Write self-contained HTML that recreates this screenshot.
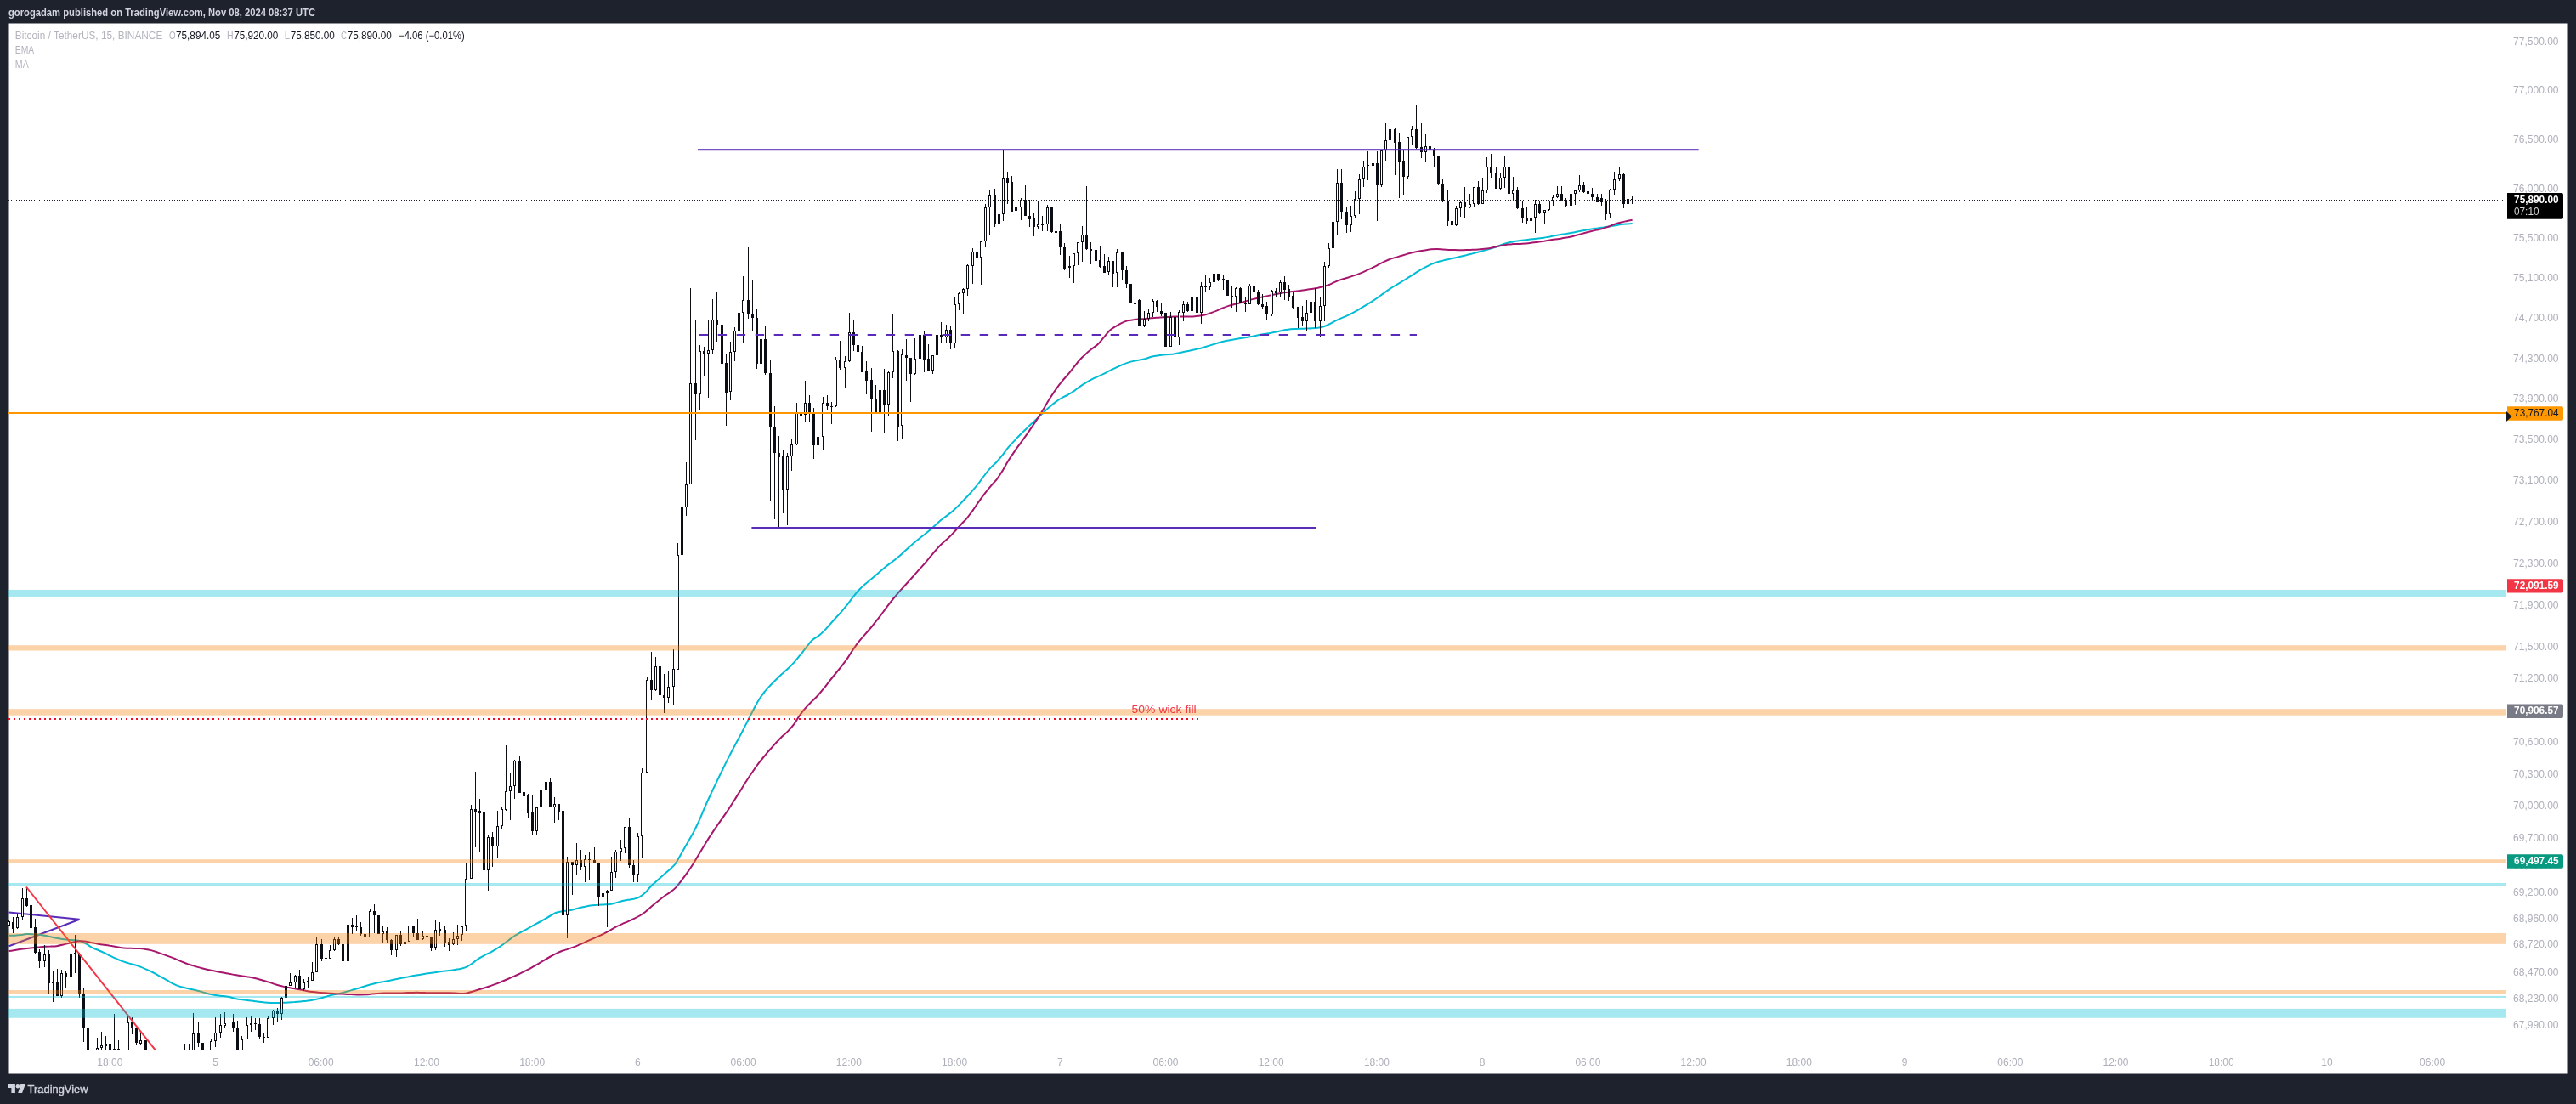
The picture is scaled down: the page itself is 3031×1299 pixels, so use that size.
<!DOCTYPE html>
<html><head><meta charset="utf-8"><title>BTCUSDT</title>
<style>
html,body{margin:0;padding:0;background:#1e222d;}
body{width:3031px;height:1299px;overflow:hidden;position:relative;font-family:"Liberation Sans",sans-serif;}
svg{position:absolute;left:0;top:0;will-change:transform;}
text{font-family:"Liberation Sans",sans-serif;}
</style></head><body>
<svg width="3031" height="1299" viewBox="0 0 3031 1299">
<defs><clipPath id="pane"><rect x="10" y="27" width="2939" height="1209"/></clipPath></defs>
<rect x="0" y="0" width="3031" height="1299" fill="#1e222d"/>
<rect x="10.5" y="27.5" width="3010" height="1236" fill="#ffffff"/>
<text x="10" y="19" font-size="13.5" font-weight="bold" fill="#d1d4dc" textLength="361" lengthAdjust="spacingAndGlyphs">gorogadam published on TradingView.com, Nov 08, 2024 08:37 UTC</text>
<g clip-path="url(#pane)">
<!-- triangle -->
<path d="M10.5 1073.4L93.6 1081.8L10.5 1113.2" fill="none" stroke="#5a2bb8" stroke-width="2"/>
<path d="M10.6 1100.7C11.7 1100.7 15.2 1100.8 17.6 1100.7C19.9 1100.6 22.2 1100.2 24.6 1100.0C26.9 1099.7 29.2 1099.2 31.6 1099.1C33.9 1099.0 36.2 1099.1 38.6 1099.3C40.9 1099.4 43.2 1099.5 45.6 1099.8C47.9 1100.0 50.2 1100.4 52.6 1100.8C54.9 1101.2 57.2 1101.8 59.6 1102.3C61.9 1102.8 64.2 1103.4 66.6 1103.8C68.9 1104.2 71.2 1104.6 73.6 1104.9C75.9 1105.2 78.2 1105.5 80.6 1105.8C82.9 1106.0 85.2 1106.0 87.6 1106.2C89.9 1106.5 92.2 1106.7 94.6 1107.4C96.9 1108.2 99.2 1109.5 101.6 1110.7C103.9 1112.0 106.2 1113.9 108.6 1115.1C110.9 1116.3 113.2 1117.0 115.6 1118.0C117.9 1119.0 120.2 1120.0 122.6 1121.1C124.9 1122.2 127.2 1123.5 129.6 1124.7C131.9 1125.8 134.2 1126.9 136.6 1127.9C138.9 1129.0 141.2 1130.0 143.6 1130.9C145.9 1131.8 148.2 1132.4 150.6 1133.1C152.9 1133.8 155.2 1134.3 157.6 1135.0C159.9 1135.7 162.2 1136.5 164.6 1137.4C166.9 1138.3 169.2 1139.2 171.6 1140.3C173.9 1141.3 176.2 1142.3 178.6 1143.5C180.9 1144.7 183.2 1146.0 185.6 1147.3C187.9 1148.6 190.2 1149.9 192.6 1151.2C194.9 1152.5 197.2 1154.0 199.6 1155.3C201.9 1156.6 204.2 1157.8 206.6 1158.8C208.9 1159.8 211.2 1160.5 213.6 1161.2C215.9 1161.8 218.2 1162.4 220.6 1163.0C222.9 1163.6 225.2 1164.1 227.6 1164.6C229.9 1165.1 232.2 1165.6 234.6 1166.2C236.9 1166.8 239.2 1167.6 241.6 1168.2C243.9 1168.9 246.2 1169.6 248.6 1170.1C250.9 1170.6 253.2 1171.0 255.6 1171.3C257.9 1171.6 260.2 1171.8 262.6 1172.1C264.9 1172.4 267.2 1172.7 269.6 1173.1C271.9 1173.6 274.2 1174.4 276.6 1174.9C278.9 1175.4 281.2 1175.8 283.6 1176.1C285.9 1176.4 288.2 1176.6 290.6 1176.9C292.9 1177.2 295.2 1177.5 297.6 1177.8C299.9 1178.1 302.2 1178.5 304.6 1178.8C306.9 1179.1 309.2 1179.3 311.6 1179.5C313.9 1179.7 316.2 1179.8 318.6 1179.9C320.9 1180.0 323.2 1180.0 325.6 1180.0C327.9 1180.0 330.2 1179.9 332.6 1179.8C334.9 1179.7 337.2 1179.6 339.6 1179.4C341.9 1179.3 344.2 1179.1 346.6 1179.0C348.9 1178.8 351.2 1178.6 353.6 1178.4C355.9 1178.2 358.2 1177.9 360.6 1177.7C362.9 1177.4 365.2 1177.1 367.6 1176.7C369.9 1176.3 372.2 1175.8 374.6 1175.2C376.9 1174.6 379.2 1173.9 381.6 1173.2C383.9 1172.6 386.2 1171.9 388.6 1171.3C390.9 1170.7 393.2 1170.2 395.6 1169.7C397.9 1169.2 400.2 1168.7 402.6 1168.1C404.9 1167.5 407.2 1166.9 409.6 1166.3C411.9 1165.6 414.2 1165.0 416.6 1164.3C418.9 1163.6 421.2 1163.0 423.6 1162.2C425.9 1161.5 428.2 1160.7 430.6 1160.0C432.9 1159.3 435.2 1158.6 437.6 1158.0C439.9 1157.3 442.2 1156.8 444.6 1156.3C446.9 1155.9 449.2 1155.4 451.6 1155.0C453.9 1154.5 456.2 1154.1 458.6 1153.7C460.9 1153.2 463.2 1152.7 465.6 1152.2C467.9 1151.8 470.2 1151.3 472.6 1150.8C474.9 1150.4 477.2 1149.9 479.6 1149.5C481.9 1149.0 484.2 1148.6 486.6 1148.1C488.9 1147.7 491.2 1147.3 493.6 1146.9C495.9 1146.5 498.2 1146.1 500.6 1145.7C502.9 1145.4 505.2 1145.0 507.6 1144.7C509.9 1144.4 512.2 1144.1 514.6 1143.8C516.9 1143.4 519.2 1143.1 521.6 1142.8C523.9 1142.5 526.2 1142.2 528.6 1141.9C530.9 1141.6 533.2 1141.3 535.6 1140.9C537.9 1140.5 540.2 1140.3 542.6 1139.7C544.9 1139.1 547.2 1138.5 549.6 1137.3C551.9 1136.2 554.2 1134.5 556.6 1132.9C558.9 1131.3 561.2 1129.1 563.6 1127.6C565.9 1126.0 568.2 1124.9 570.6 1123.7C572.9 1122.5 575.2 1121.6 577.6 1120.4C579.9 1119.1 582.2 1117.7 584.6 1116.2C586.9 1114.7 589.2 1113.2 591.6 1111.5C593.9 1109.8 596.2 1107.9 598.6 1106.2C600.9 1104.5 603.2 1102.6 605.6 1101.0C607.9 1099.5 610.2 1098.3 612.6 1097.0C614.9 1095.7 617.2 1094.6 619.6 1093.3C621.9 1092.0 624.2 1090.7 626.6 1089.4C628.9 1088.1 631.2 1086.8 633.6 1085.5C635.9 1084.3 638.2 1083.1 640.6 1081.7C642.9 1080.4 645.2 1078.8 647.6 1077.5C649.9 1076.2 652.2 1074.7 654.6 1073.8C656.9 1073.0 659.2 1072.6 661.6 1072.2C663.9 1071.8 666.2 1071.8 668.6 1071.4C670.9 1071.0 673.2 1070.6 675.6 1070.0C677.9 1069.4 680.2 1068.6 682.6 1068.0C684.9 1067.4 687.2 1067.0 689.6 1066.5C691.9 1066.0 694.2 1065.6 696.6 1065.3C698.9 1065.0 701.2 1064.8 703.6 1064.7C705.9 1064.5 708.2 1064.5 710.6 1064.4C712.9 1064.3 715.2 1064.3 717.6 1063.9C719.9 1063.6 722.2 1063.0 724.6 1062.4C726.9 1061.8 729.2 1060.9 731.6 1060.3C733.9 1059.7 736.2 1059.3 738.6 1058.8C740.9 1058.4 743.2 1058.3 745.6 1057.8C747.9 1057.2 750.2 1056.7 752.6 1055.4C754.9 1054.1 757.2 1052.3 759.6 1050.1C761.9 1047.9 764.2 1044.4 766.6 1042.0C768.9 1039.6 771.2 1037.9 773.6 1035.8C775.9 1033.7 778.2 1031.6 780.6 1029.5C782.9 1027.4 785.2 1025.6 787.6 1023.4C789.9 1021.2 792.2 1019.6 794.6 1016.5C796.9 1013.3 799.2 1008.6 801.6 1004.5C803.9 1000.5 806.2 996.3 808.6 992.3C810.9 988.2 813.2 984.4 815.6 980.0C817.9 975.6 820.2 970.9 822.6 965.8C824.9 960.6 827.2 954.5 829.6 949.2C831.9 943.9 834.2 938.9 836.6 933.8C838.9 928.8 841.2 924.0 843.6 919.1C845.9 914.3 848.2 909.5 850.6 904.7C852.9 900.0 855.2 895.2 857.6 890.6C859.9 886.0 862.2 881.5 864.6 877.2C866.9 872.8 869.2 868.7 871.6 864.3C873.9 859.9 876.2 855.2 878.6 850.6C880.9 846.1 883.2 841.4 885.6 836.9C887.9 832.5 890.2 827.8 892.6 824.0C894.9 820.1 897.2 816.9 899.6 814.0C901.9 811.0 904.2 808.7 906.6 806.2C908.9 803.7 911.2 801.5 913.6 799.2C915.9 796.9 918.2 794.7 920.6 792.6C922.9 790.4 925.2 788.4 927.6 786.2C929.9 784.0 932.2 781.7 934.6 779.1C936.9 776.5 939.2 773.6 941.6 770.7C943.9 767.8 946.2 764.8 948.6 761.9C950.9 759.0 953.2 755.5 955.6 753.3C957.9 751.1 960.2 750.4 962.6 748.6C964.9 746.8 967.2 744.8 969.6 742.4C971.9 740.1 974.2 737.2 976.6 734.6C978.9 732.0 981.2 729.4 983.6 726.8C985.9 724.3 988.2 721.8 990.6 719.1C992.9 716.3 995.2 713.5 997.6 710.6C999.9 707.6 1002.2 704.2 1004.6 701.4C1006.9 698.5 1009.2 695.8 1011.6 693.3C1013.9 690.9 1016.2 688.8 1018.6 686.7C1020.9 684.7 1023.2 683.0 1025.6 681.0C1027.9 679.1 1030.2 676.9 1032.6 674.9C1034.9 672.9 1037.2 670.9 1039.6 668.9C1041.9 667.0 1044.2 665.2 1046.6 663.4C1048.9 661.6 1051.2 659.9 1053.6 658.1C1055.9 656.2 1058.2 654.3 1060.6 652.2C1062.9 650.2 1065.2 647.9 1067.6 645.7C1069.9 643.6 1072.2 641.4 1074.6 639.4C1076.9 637.4 1079.2 635.5 1081.6 633.7C1083.9 631.8 1086.2 630.1 1088.6 628.2C1090.9 626.4 1093.2 624.6 1095.6 622.5C1097.9 620.5 1100.2 617.9 1102.6 615.9C1104.9 613.8 1107.2 611.8 1109.6 610.0C1111.9 608.2 1114.2 606.8 1116.6 604.9C1118.9 603.1 1121.2 601.1 1123.6 598.9C1125.9 596.8 1128.2 594.4 1130.6 592.1C1132.9 589.7 1135.2 587.2 1137.6 584.7C1139.9 582.2 1142.2 579.6 1144.6 576.9C1146.9 574.2 1149.2 571.5 1151.6 568.5C1153.9 565.5 1156.2 562.0 1158.6 559.0C1160.9 555.9 1163.2 552.9 1165.6 550.4C1167.9 547.8 1170.2 546.2 1172.6 543.7C1174.9 541.2 1177.2 538.3 1179.6 535.4C1181.9 532.4 1184.2 529.0 1186.6 526.2C1188.9 523.4 1191.2 521.0 1193.6 518.6C1195.9 516.1 1198.2 513.7 1200.6 511.3C1202.9 508.9 1205.2 506.6 1207.6 504.4C1209.9 502.1 1212.2 500.0 1214.6 497.8C1216.9 495.7 1219.2 493.5 1221.6 491.3C1223.9 489.0 1226.2 486.7 1228.6 484.5C1230.9 482.3 1233.2 480.2 1235.6 478.2C1237.9 476.2 1240.2 474.3 1242.6 472.6C1244.9 470.9 1247.2 469.4 1249.6 468.0C1251.9 466.6 1254.2 465.8 1256.6 464.5C1258.9 463.1 1261.2 461.7 1263.6 460.1C1265.9 458.5 1268.2 456.5 1270.6 454.9C1272.9 453.2 1275.2 451.7 1277.6 450.3C1279.9 448.9 1282.2 447.6 1284.6 446.3C1286.9 445.1 1289.2 444.2 1291.6 443.1C1293.9 442.0 1296.2 440.9 1298.6 439.8C1300.9 438.7 1303.2 437.4 1305.6 436.2C1307.9 435.1 1310.2 433.9 1312.6 432.8C1314.9 431.7 1317.2 430.5 1319.6 429.5C1321.9 428.5 1324.2 427.7 1326.6 426.9C1328.9 426.2 1331.2 425.5 1333.6 424.9C1335.9 424.3 1338.2 423.8 1340.6 423.4C1342.9 422.9 1345.2 422.8 1347.6 422.2C1349.9 421.6 1352.2 420.4 1354.6 419.8C1356.9 419.2 1359.2 418.9 1361.6 418.5C1363.9 418.2 1366.2 417.9 1368.6 417.6C1370.9 417.4 1373.2 417.2 1375.6 417.0C1377.9 416.8 1380.2 416.6 1382.6 416.2C1384.9 415.9 1387.2 415.3 1389.6 414.8C1391.9 414.3 1394.2 413.7 1396.6 413.2C1398.9 412.7 1401.2 412.3 1403.6 411.8C1405.9 411.4 1408.2 410.8 1410.6 410.2C1412.9 409.6 1415.2 408.9 1417.6 408.2C1419.9 407.5 1422.2 406.8 1424.6 406.1C1426.9 405.4 1429.2 404.7 1431.6 404.0C1433.9 403.3 1436.2 402.6 1438.6 402.0C1440.9 401.5 1443.2 401.0 1445.6 400.6C1447.9 400.1 1450.2 399.7 1452.6 399.3C1454.9 398.9 1457.2 398.5 1459.6 398.1C1461.9 397.7 1464.2 397.3 1466.6 396.9C1468.9 396.5 1471.2 396.1 1473.6 395.7C1475.9 395.2 1478.2 394.8 1480.6 394.3C1482.9 393.9 1485.2 393.5 1487.6 393.1C1489.9 392.7 1492.2 392.3 1494.6 391.9C1496.9 391.5 1499.2 391.1 1501.6 390.6C1503.9 390.1 1506.2 389.4 1508.6 388.9C1510.9 388.4 1513.2 388.1 1515.6 387.8C1517.9 387.5 1520.2 387.3 1522.6 387.1C1524.9 387.0 1527.2 386.8 1529.6 386.8C1531.9 386.7 1534.2 386.7 1536.6 386.6C1538.9 386.5 1541.2 386.5 1543.6 386.3C1545.9 386.2 1548.2 386.1 1550.6 385.8C1552.9 385.4 1555.2 385.0 1557.6 384.3C1559.9 383.5 1562.2 382.4 1564.6 381.2C1566.9 380.1 1569.2 378.5 1571.6 377.3C1573.9 376.1 1576.2 375.1 1578.6 374.1C1580.9 373.1 1583.2 372.3 1585.6 371.2C1587.9 370.1 1590.2 368.9 1592.6 367.6C1594.9 366.4 1597.2 365.0 1599.6 363.6C1601.9 362.2 1604.2 360.8 1606.6 359.4C1608.9 358.0 1611.2 356.6 1613.6 355.1C1615.9 353.6 1618.2 352.1 1620.6 350.5C1622.9 348.9 1625.2 347.1 1627.6 345.4C1629.9 343.7 1632.2 342.0 1634.6 340.4C1636.9 338.9 1639.2 337.4 1641.6 336.0C1643.9 334.6 1646.2 333.3 1648.6 331.9C1650.9 330.5 1653.2 329.0 1655.6 327.5C1657.9 326.1 1660.2 324.5 1662.6 323.1C1664.9 321.6 1667.2 320.1 1669.6 318.7C1671.9 317.3 1674.2 316.0 1676.6 314.7C1678.9 313.5 1681.2 312.3 1683.6 311.2C1685.9 310.2 1688.2 309.2 1690.6 308.5C1692.9 307.7 1695.2 307.2 1697.6 306.6C1699.9 306.0 1702.2 305.5 1704.6 305.0C1706.9 304.4 1709.2 303.9 1711.6 303.4C1713.9 302.9 1716.2 302.4 1718.6 301.8C1720.9 301.3 1723.2 300.7 1725.6 300.1C1727.9 299.6 1730.2 299.0 1732.6 298.4C1734.9 297.8 1737.2 297.2 1739.6 296.5C1741.9 295.9 1744.2 295.3 1746.6 294.6C1748.9 294.0 1751.2 293.3 1753.6 292.6C1755.9 291.9 1758.2 291.3 1760.6 290.5C1762.9 289.7 1765.2 288.4 1767.6 287.6C1769.9 286.8 1772.2 286.1 1774.6 285.5C1776.9 284.9 1779.2 284.6 1781.6 284.2C1783.9 283.8 1786.2 283.5 1788.6 283.1C1790.9 282.8 1793.2 282.5 1795.6 282.2C1797.9 281.9 1800.2 281.6 1802.6 281.3C1804.9 281.0 1807.2 280.9 1809.6 280.6C1811.9 280.3 1814.2 280.1 1816.6 279.7C1818.9 279.3 1821.2 278.8 1823.6 278.4C1825.9 277.9 1828.2 277.4 1830.6 277.0C1832.9 276.6 1835.2 276.2 1837.6 275.8C1839.9 275.5 1842.2 275.1 1844.6 274.7C1846.9 274.3 1849.2 274.0 1851.6 273.5C1853.9 273.1 1856.2 272.5 1858.6 272.1C1860.9 271.6 1863.2 271.1 1865.6 270.7C1867.9 270.3 1870.2 270.0 1872.6 269.6C1874.9 269.2 1877.2 268.9 1879.6 268.6C1881.9 268.2 1884.2 267.9 1886.6 267.6C1888.9 267.2 1891.2 266.8 1893.6 266.4C1895.9 266.1 1898.2 265.7 1900.6 265.3C1902.9 264.9 1905.2 264.4 1907.6 264.1C1909.9 263.8 1912.4 263.6 1914.6 263.4C1916.7 263.2 1919.6 263.1 1920.6 263.1" fill="none" stroke="#00bcd4" stroke-width="2" stroke-linejoin="round"/>
<path d="M10.6 1119.0C11.7 1118.9 15.2 1118.4 17.6 1118.0C19.9 1117.6 22.2 1117.2 24.6 1116.8C26.9 1116.5 29.2 1116.1 31.6 1115.9C33.9 1115.6 36.2 1115.5 38.6 1115.3C40.9 1115.1 43.2 1114.9 45.6 1114.6C47.9 1114.3 50.2 1113.9 52.6 1113.7C54.9 1113.5 57.2 1113.5 59.6 1113.5C61.9 1113.4 64.2 1113.5 66.6 1113.2C68.9 1112.9 71.2 1112.3 73.6 1111.7C75.9 1111.2 78.2 1110.5 80.6 1110.0C82.9 1109.4 85.2 1108.7 87.6 1108.3C89.9 1107.8 92.2 1107.4 94.6 1107.3C96.9 1107.2 99.2 1107.3 101.6 1107.7C103.9 1108.0 106.2 1108.8 108.6 1109.3C110.9 1109.8 113.2 1110.3 115.6 1110.7C117.9 1111.1 120.2 1111.4 122.6 1111.7C124.9 1112.0 127.2 1112.3 129.6 1112.7C131.9 1113.0 134.2 1113.6 136.6 1114.0C138.9 1114.4 141.2 1115.0 143.6 1115.3C145.9 1115.6 148.2 1115.6 150.6 1115.7C152.9 1115.8 155.2 1115.8 157.6 1115.9C159.9 1115.9 162.2 1115.9 164.6 1116.1C166.9 1116.3 169.2 1116.6 171.6 1117.0C173.9 1117.3 176.2 1117.8 178.6 1118.4C180.9 1119.0 183.2 1119.8 185.6 1120.6C187.9 1121.4 190.2 1122.2 192.6 1123.1C194.9 1123.9 197.2 1124.7 199.6 1125.6C201.9 1126.5 204.2 1127.4 206.6 1128.3C208.9 1129.3 211.2 1130.3 213.6 1131.3C215.9 1132.2 218.2 1133.2 220.6 1134.1C222.9 1134.9 225.2 1135.6 227.6 1136.4C229.9 1137.1 232.2 1137.8 234.6 1138.4C236.9 1139.0 239.2 1139.7 241.6 1140.2C243.9 1140.8 246.2 1141.3 248.6 1141.8C250.9 1142.3 253.2 1142.8 255.6 1143.2C257.9 1143.6 260.2 1144.0 262.6 1144.4C264.9 1144.9 267.2 1145.3 269.6 1145.8C271.9 1146.2 274.2 1146.7 276.6 1147.1C278.9 1147.5 281.2 1147.9 283.6 1148.2C285.9 1148.6 288.2 1148.8 290.6 1149.2C292.9 1149.6 295.2 1149.9 297.6 1150.5C299.9 1151.0 302.2 1151.6 304.6 1152.2C306.9 1152.9 309.2 1153.6 311.6 1154.3C313.9 1155.0 316.2 1155.7 318.6 1156.4C320.9 1157.2 323.2 1158.1 325.6 1158.8C327.9 1159.5 330.2 1160.1 332.6 1160.6C334.9 1161.2 337.2 1161.6 339.6 1162.0C341.9 1162.5 344.2 1162.8 346.6 1163.3C348.9 1163.7 351.2 1164.1 353.6 1164.6C355.9 1165.1 358.2 1165.6 360.6 1166.0C362.9 1166.4 365.2 1166.8 367.6 1167.0C369.9 1167.3 372.2 1167.5 374.6 1167.7C376.9 1167.8 379.2 1168.0 381.6 1168.2C383.9 1168.4 386.2 1168.5 388.6 1168.7C390.9 1168.9 393.2 1169.0 395.6 1169.2C397.9 1169.3 400.2 1169.5 402.6 1169.6C404.9 1169.7 407.2 1169.9 409.6 1170.0C411.9 1170.1 414.2 1170.1 416.6 1170.2C418.9 1170.3 421.2 1170.4 423.6 1170.4C425.9 1170.4 428.2 1170.4 430.6 1170.3C432.9 1170.2 435.2 1169.8 437.6 1169.6C439.9 1169.4 442.2 1169.2 444.6 1169.0C446.9 1168.9 449.2 1168.7 451.6 1168.6C453.9 1168.6 456.2 1168.6 458.6 1168.5C460.9 1168.5 463.2 1168.5 465.6 1168.5C467.9 1168.5 470.2 1168.4 472.6 1168.4C474.9 1168.3 477.2 1168.2 479.6 1168.1C481.9 1168.0 484.2 1167.9 486.6 1167.9C488.9 1167.8 491.2 1167.8 493.6 1167.9C495.9 1167.9 498.2 1168.0 500.6 1168.1C502.9 1168.1 505.2 1168.2 507.6 1168.2C509.9 1168.3 512.2 1168.2 514.6 1168.2C516.9 1168.2 519.2 1168.2 521.6 1168.2C523.9 1168.2 526.2 1168.2 528.6 1168.2C530.9 1168.3 533.2 1168.4 535.6 1168.5C537.9 1168.6 540.2 1169.0 542.6 1169.0C544.9 1169.0 547.2 1168.8 549.6 1168.4C551.9 1168.0 554.2 1167.2 556.6 1166.5C558.9 1165.9 561.2 1165.0 563.6 1164.3C565.9 1163.6 568.2 1162.9 570.6 1162.2C572.9 1161.5 575.2 1160.7 577.6 1159.9C579.9 1159.1 582.2 1158.3 584.6 1157.4C586.9 1156.5 589.2 1155.5 591.6 1154.5C593.9 1153.5 596.2 1152.5 598.6 1151.5C600.9 1150.5 603.2 1149.5 605.6 1148.4C607.9 1147.4 610.2 1146.3 612.6 1145.2C614.9 1144.1 617.2 1143.0 619.6 1141.7C621.9 1140.5 624.2 1139.3 626.6 1137.9C628.9 1136.6 631.2 1135.2 633.6 1133.8C635.9 1132.4 638.2 1131.0 640.6 1129.6C642.9 1128.2 645.2 1126.8 647.6 1125.5C649.9 1124.2 652.2 1123.0 654.6 1121.9C656.9 1120.7 659.2 1119.7 661.6 1118.8C663.9 1118.0 666.2 1117.4 668.6 1116.6C670.9 1115.8 673.2 1115.0 675.6 1114.1C677.9 1113.2 680.2 1112.2 682.6 1111.2C684.9 1110.2 687.2 1109.1 689.6 1108.0C691.9 1107.0 694.2 1106.0 696.6 1104.9C698.9 1103.9 701.2 1102.9 703.6 1101.9C705.9 1100.8 708.2 1099.8 710.6 1098.6C712.9 1097.4 715.2 1096.2 717.6 1094.9C719.9 1093.5 722.2 1092.0 724.6 1090.7C726.9 1089.4 729.2 1088.3 731.6 1087.3C733.9 1086.2 736.2 1085.4 738.6 1084.4C740.9 1083.3 743.2 1082.3 745.6 1081.1C747.9 1080.0 750.2 1078.9 752.6 1077.5C754.9 1076.1 757.2 1074.6 759.6 1072.7C761.9 1070.9 764.2 1068.5 766.6 1066.5C768.9 1064.5 771.2 1062.6 773.6 1060.7C775.9 1058.8 778.2 1057.0 780.6 1055.2C782.9 1053.5 785.2 1052.1 787.6 1050.4C789.9 1048.7 792.2 1047.3 794.6 1044.9C796.9 1042.6 799.2 1039.3 801.6 1036.3C803.9 1033.3 806.2 1030.2 808.6 1026.9C810.9 1023.6 813.2 1020.2 815.6 1016.5C817.9 1012.8 820.2 1008.7 822.6 1004.8C824.9 1000.9 827.2 997.0 829.6 993.2C831.9 989.4 834.2 985.6 836.6 982.1C838.9 978.5 841.2 975.1 843.6 971.8C845.9 968.4 848.2 965.2 850.6 961.9C852.9 958.5 855.2 955.2 857.6 951.7C859.9 948.1 862.2 944.3 864.6 940.7C866.9 937.0 869.2 933.3 871.6 929.6C873.9 925.9 876.2 922.1 878.6 918.5C880.9 914.8 883.2 911.3 885.6 908.0C887.9 904.6 890.2 901.3 892.6 898.2C894.9 895.1 897.2 892.3 899.6 889.5C901.9 886.6 904.2 883.9 906.6 881.3C908.9 878.6 911.2 876.0 913.6 873.5C915.9 871.1 918.2 868.6 920.6 866.3C922.9 864.0 925.2 862.3 927.6 859.9C929.9 857.4 932.2 854.7 934.6 851.6C936.9 848.4 939.2 844.1 941.6 840.9C943.9 837.6 946.2 834.7 948.6 832.1C950.9 829.4 953.2 827.3 955.6 824.9C957.9 822.6 960.2 820.6 962.6 818.0C964.9 815.5 967.2 812.6 969.6 809.7C971.9 806.8 974.2 803.6 976.6 800.7C978.9 797.7 981.2 794.9 983.6 792.0C985.9 789.1 988.2 786.4 990.6 783.4C992.9 780.4 995.2 777.3 997.6 773.9C999.9 770.5 1002.2 766.4 1004.6 763.1C1006.9 759.7 1009.2 756.7 1011.6 753.7C1013.9 750.8 1016.2 748.3 1018.6 745.6C1020.9 742.9 1023.2 740.3 1025.6 737.5C1027.9 734.7 1030.2 731.7 1032.6 728.7C1034.9 725.7 1037.2 722.6 1039.6 719.5C1041.9 716.4 1044.2 713.2 1046.6 710.2C1048.9 707.2 1051.2 704.2 1053.6 701.5C1055.9 698.7 1058.2 696.0 1060.6 693.4C1062.9 690.8 1065.2 688.3 1067.6 685.7C1069.9 683.2 1072.2 680.6 1074.6 678.0C1076.9 675.4 1079.2 672.9 1081.6 670.2C1083.9 667.6 1086.2 665.0 1088.6 662.3C1090.9 659.6 1093.2 656.7 1095.6 653.9C1097.9 651.1 1100.2 648.2 1102.6 645.7C1104.9 643.1 1107.2 640.8 1109.6 638.6C1111.9 636.4 1114.2 634.6 1116.6 632.3C1118.9 630.1 1121.2 627.5 1123.6 625.0C1125.9 622.5 1128.2 619.8 1130.6 617.2C1132.9 614.7 1135.2 612.6 1137.6 609.8C1139.9 607.0 1142.2 603.8 1144.6 600.6C1146.9 597.4 1149.2 593.7 1151.6 590.4C1153.9 587.1 1156.2 584.0 1158.6 580.9C1160.9 577.8 1163.2 574.8 1165.6 572.1C1167.9 569.3 1170.2 567.3 1172.6 564.3C1174.9 561.2 1177.2 557.6 1179.6 553.9C1181.9 550.1 1184.2 545.6 1186.6 541.8C1188.9 538.0 1191.2 534.7 1193.6 531.3C1195.9 527.9 1198.2 524.9 1200.6 521.6C1202.9 518.4 1205.2 515.2 1207.6 511.9C1209.9 508.6 1212.2 505.2 1214.6 501.8C1216.9 498.4 1219.2 495.1 1221.6 491.4C1223.9 487.8 1226.2 483.8 1228.6 480.0C1230.9 476.1 1233.2 472.0 1235.6 468.3C1237.9 464.6 1240.2 461.1 1242.6 457.8C1244.9 454.5 1247.2 451.5 1249.6 448.6C1251.9 445.7 1254.2 443.4 1256.6 440.6C1258.9 437.8 1261.2 434.8 1263.6 431.9C1265.9 429.0 1268.2 425.8 1270.6 423.2C1272.9 420.6 1275.2 418.5 1277.6 416.4C1279.9 414.2 1282.2 412.4 1284.6 410.5C1286.9 408.6 1289.2 407.4 1291.6 405.2C1293.9 403.0 1296.2 399.9 1298.6 397.2C1300.9 394.5 1303.2 391.2 1305.6 389.0C1307.9 386.8 1310.2 385.6 1312.6 384.1C1314.9 382.6 1317.2 381.2 1319.6 380.1C1321.9 379.0 1324.2 378.0 1326.6 377.4C1328.9 376.8 1331.2 376.6 1333.6 376.3C1335.9 376.0 1338.2 375.8 1340.6 375.6C1342.9 375.4 1345.2 375.1 1347.6 374.9C1349.9 374.7 1352.2 374.5 1354.6 374.3C1356.9 374.1 1359.2 374.0 1361.6 373.8C1363.9 373.6 1366.2 373.5 1368.6 373.3C1370.9 373.1 1373.2 372.8 1375.6 372.7C1377.9 372.5 1380.2 372.5 1382.6 372.5C1384.9 372.5 1387.2 372.5 1389.6 372.5C1391.9 372.5 1394.2 372.5 1396.6 372.5C1398.9 372.5 1401.2 372.5 1403.6 372.4C1405.9 372.2 1408.2 372.0 1410.6 371.7C1412.9 371.4 1415.2 371.1 1417.6 370.5C1419.9 370.0 1422.2 369.1 1424.6 368.3C1426.9 367.4 1429.2 366.5 1431.6 365.6C1433.9 364.6 1436.2 363.4 1438.6 362.5C1440.9 361.5 1443.2 360.7 1445.6 359.9C1447.9 359.2 1450.2 358.6 1452.6 358.0C1454.9 357.4 1457.2 356.8 1459.6 356.2C1461.9 355.5 1464.2 354.8 1466.6 354.1C1468.9 353.4 1471.2 352.7 1473.6 352.1C1475.9 351.5 1478.2 350.9 1480.6 350.4C1482.9 349.9 1485.2 349.5 1487.6 349.0C1489.9 348.5 1492.2 348.0 1494.6 347.4C1496.9 346.9 1499.2 346.4 1501.6 345.9C1503.9 345.5 1506.2 345.1 1508.6 344.7C1510.9 344.3 1513.2 344.1 1515.6 343.8C1517.9 343.4 1520.2 343.1 1522.6 342.8C1524.9 342.5 1527.2 342.3 1529.6 342.0C1531.9 341.6 1534.2 341.4 1536.6 341.0C1538.9 340.7 1541.2 340.3 1543.6 339.9C1545.9 339.5 1548.2 339.1 1550.6 338.7C1552.9 338.2 1555.2 337.7 1557.6 337.0C1559.9 336.3 1562.2 335.6 1564.6 334.7C1566.9 333.7 1569.2 332.4 1571.6 331.4C1573.9 330.4 1576.2 329.6 1578.6 328.8C1580.9 328.0 1583.2 327.5 1585.6 326.8C1587.9 326.1 1590.2 325.3 1592.6 324.4C1594.9 323.6 1597.2 322.8 1599.6 321.8C1601.9 320.9 1604.2 319.9 1606.6 318.8C1608.9 317.8 1611.2 316.7 1613.6 315.6C1615.9 314.4 1618.2 313.3 1620.6 312.1C1622.9 310.9 1625.2 309.5 1627.6 308.4C1629.9 307.3 1632.2 306.1 1634.6 305.2C1636.9 304.3 1639.2 303.7 1641.6 303.0C1643.9 302.3 1646.2 301.7 1648.6 301.0C1650.9 300.3 1653.2 299.6 1655.6 298.9C1657.9 298.3 1660.2 297.6 1662.6 297.1C1664.9 296.5 1667.2 296.1 1669.6 295.6C1671.9 295.2 1674.2 294.8 1676.6 294.4C1678.9 294.0 1681.2 293.6 1683.6 293.3C1685.9 293.1 1688.2 292.9 1690.6 292.9C1692.9 292.9 1695.2 293.2 1697.6 293.4C1699.9 293.6 1702.2 293.8 1704.6 293.9C1706.9 294.0 1709.2 294.1 1711.6 294.1C1713.9 294.2 1716.2 294.3 1718.6 294.3C1720.9 294.3 1723.2 294.2 1725.6 294.1C1727.9 294.1 1730.2 293.9 1732.6 293.8C1734.9 293.7 1737.2 293.6 1739.6 293.4C1741.9 293.2 1744.2 293.1 1746.6 292.8C1748.9 292.6 1751.2 292.3 1753.6 291.9C1755.9 291.5 1758.2 290.8 1760.6 290.3C1762.9 289.8 1765.2 289.3 1767.6 288.8C1769.9 288.4 1772.2 287.8 1774.6 287.5C1776.9 287.3 1779.2 287.2 1781.6 287.1C1783.9 287.0 1786.2 287.0 1788.6 286.9C1790.9 286.8 1793.2 286.6 1795.6 286.4C1797.9 286.2 1800.2 285.9 1802.6 285.6C1804.9 285.3 1807.2 285.0 1809.6 284.7C1811.9 284.4 1814.2 284.0 1816.6 283.7C1818.9 283.3 1821.2 282.9 1823.6 282.5C1825.9 282.2 1828.2 281.8 1830.6 281.4C1832.9 281.1 1835.2 280.8 1837.6 280.4C1839.9 280.0 1842.2 279.7 1844.6 279.3C1846.9 278.8 1849.2 278.3 1851.6 277.7C1853.9 277.1 1856.2 276.3 1858.6 275.7C1860.9 275.1 1863.2 274.4 1865.6 273.8C1867.9 273.2 1870.2 272.6 1872.6 272.1C1874.9 271.5 1877.2 271.0 1879.6 270.4C1881.9 269.9 1884.2 269.4 1886.6 268.7C1888.9 268.0 1891.2 267.0 1893.6 266.2C1895.9 265.3 1898.2 264.3 1900.6 263.5C1902.9 262.7 1905.2 262.1 1907.6 261.5C1909.9 260.9 1912.4 260.4 1914.6 259.9C1916.7 259.4 1919.6 258.9 1920.6 258.7" fill="none" stroke="#a5166c" stroke-width="2" stroke-linejoin="round"/>
<g fill="#0b0d15" shape-rendering="crispEdges">
<rect x="10" y="1083" width="1" height="7"/>
<rect x="9" y="1084" width="3" height="5"/>
<rect x="10" y="1085" width="1" height="3" fill="#fff"/>
<rect x="15" y="1079" width="1" height="19"/>
<rect x="14" y="1085" width="3" height="8"/>
<rect x="20" y="1076" width="1" height="17"/>
<rect x="19" y="1079" width="3" height="13"/>
<rect x="20" y="1080" width="1" height="11" fill="#fff"/>
<rect x="26" y="1045" width="1" height="37"/>
<rect x="25" y="1057" width="3" height="22"/>
<rect x="26" y="1058" width="1" height="20" fill="#fff"/>
<rect x="31" y="1044" width="1" height="23"/>
<rect x="30" y="1057" width="3" height="9"/>
<rect x="36" y="1056" width="1" height="38"/>
<rect x="35" y="1065" width="3" height="27"/>
<rect x="41" y="1081" width="1" height="41"/>
<rect x="40" y="1091" width="3" height="30"/>
<rect x="46" y="1117" width="1" height="22"/>
<rect x="45" y="1120" width="3" height="11"/>
<rect x="52" y="1112" width="1" height="26"/>
<rect x="51" y="1123" width="3" height="8"/>
<rect x="52" y="1124" width="1" height="6" fill="#fff"/>
<rect x="57" y="1118" width="1" height="51"/>
<rect x="56" y="1122" width="3" height="35"/>
<rect x="62" y="1142" width="1" height="37"/>
<rect x="61" y="1156" width="3" height="1"/>
<rect x="67" y="1140" width="1" height="32"/>
<rect x="66" y="1156" width="3" height="16"/>
<rect x="72" y="1141" width="1" height="33"/>
<rect x="71" y="1145" width="3" height="27"/>
<rect x="72" y="1146" width="1" height="25" fill="#fff"/>
<rect x="77" y="1143" width="1" height="19"/>
<rect x="76" y="1145" width="3" height="5"/>
<rect x="83" y="1112" width="1" height="50"/>
<rect x="82" y="1122" width="3" height="28"/>
<rect x="83" y="1123" width="1" height="26" fill="#fff"/>
<rect x="88" y="1100" width="1" height="45"/>
<rect x="87" y="1121" width="3" height="1"/>
<rect x="93" y="1121" width="1" height="53"/>
<rect x="92" y="1122" width="3" height="47"/>
<rect x="98" y="1162" width="1" height="64"/>
<rect x="97" y="1169" width="3" height="41"/>
<rect x="103" y="1200" width="1" height="79"/>
<rect x="102" y="1210" width="3" height="59"/>
<rect x="108" y="1259" width="1" height="40"/>
<rect x="107" y="1269" width="3" height="10"/>
<rect x="114" y="1221" width="1" height="58"/>
<rect x="113" y="1233" width="3" height="36"/>
<rect x="114" y="1234" width="1" height="34" fill="#fff"/>
<rect x="119" y="1214" width="1" height="21"/>
<rect x="118" y="1230" width="3" height="3"/>
<rect x="119" y="1231" width="1" height="1" fill="#fff"/>
<rect x="124" y="1219" width="1" height="24"/>
<rect x="123" y="1228" width="3" height="3"/>
<rect x="124" y="1229" width="1" height="1" fill="#fff"/>
<rect x="129" y="1224" width="1" height="25"/>
<rect x="128" y="1228" width="3" height="15"/>
<rect x="134" y="1193" width="1" height="66"/>
<rect x="133" y="1234" width="3" height="9"/>
<rect x="134" y="1235" width="1" height="7" fill="#fff"/>
<rect x="139" y="1224" width="1" height="35"/>
<rect x="138" y="1234" width="3" height="15"/>
<rect x="145" y="1239" width="1" height="40"/>
<rect x="144" y="1249" width="3" height="20"/>
<rect x="150" y="1196" width="1" height="83"/>
<rect x="149" y="1203" width="3" height="66"/>
<rect x="150" y="1204" width="1" height="64" fill="#fff"/>
<rect x="155" y="1197" width="1" height="20"/>
<rect x="154" y="1203" width="3" height="6"/>
<rect x="160" y="1209" width="1" height="20"/>
<rect x="159" y="1209" width="3" height="18"/>
<rect x="165" y="1215" width="1" height="14"/>
<rect x="164" y="1224" width="3" height="4"/>
<rect x="165" y="1225" width="1" height="2" fill="#fff"/>
<rect x="171" y="1224" width="1" height="35"/>
<rect x="170" y="1224" width="3" height="25"/>
<rect x="217" y="1228" width="1" height="51"/>
<rect x="216" y="1259" width="3" height="10"/>
<rect x="217" y="1260" width="1" height="8" fill="#fff"/>
<rect x="222" y="1228" width="1" height="51"/>
<rect x="221" y="1249" width="3" height="10"/>
<rect x="222" y="1250" width="1" height="8" fill="#fff"/>
<rect x="227" y="1192" width="1" height="67"/>
<rect x="226" y="1216" width="3" height="33"/>
<rect x="227" y="1217" width="1" height="31" fill="#fff"/>
<rect x="233" y="1202" width="1" height="30"/>
<rect x="232" y="1216" width="3" height="11"/>
<rect x="238" y="1227" width="1" height="32"/>
<rect x="237" y="1227" width="3" height="22"/>
<rect x="243" y="1211" width="1" height="68"/>
<rect x="242" y="1249" width="3" height="10"/>
<rect x="248" y="1223" width="1" height="46"/>
<rect x="247" y="1225" width="3" height="34"/>
<rect x="248" y="1226" width="1" height="32" fill="#fff"/>
<rect x="253" y="1197" width="1" height="35"/>
<rect x="252" y="1215" width="3" height="10"/>
<rect x="253" y="1216" width="1" height="8" fill="#fff"/>
<rect x="259" y="1193" width="1" height="28"/>
<rect x="258" y="1206" width="3" height="9"/>
<rect x="259" y="1207" width="1" height="7" fill="#fff"/>
<rect x="264" y="1191" width="1" height="19"/>
<rect x="263" y="1204" width="3" height="3"/>
<rect x="264" y="1205" width="1" height="1" fill="#fff"/>
<rect x="269" y="1182" width="1" height="27"/>
<rect x="268" y="1202" width="3" height="1"/>
<rect x="274" y="1193" width="1" height="21"/>
<rect x="273" y="1202" width="3" height="7"/>
<rect x="279" y="1201" width="1" height="48"/>
<rect x="278" y="1209" width="3" height="30"/>
<rect x="284" y="1219" width="1" height="24"/>
<rect x="283" y="1223" width="3" height="16"/>
<rect x="284" y="1224" width="1" height="14" fill="#fff"/>
<rect x="290" y="1197" width="1" height="26"/>
<rect x="289" y="1206" width="3" height="17"/>
<rect x="290" y="1207" width="1" height="15" fill="#fff"/>
<rect x="295" y="1196" width="1" height="18"/>
<rect x="294" y="1204" width="3" height="2"/>
<rect x="300" y="1198" width="1" height="14"/>
<rect x="299" y="1204" width="3" height="1"/>
<rect x="305" y="1198" width="1" height="24"/>
<rect x="304" y="1205" width="3" height="15"/>
<rect x="310" y="1216" width="1" height="11"/>
<rect x="309" y="1220" width="3" height="1"/>
<rect x="315" y="1195" width="1" height="26"/>
<rect x="314" y="1198" width="3" height="23"/>
<rect x="315" y="1199" width="1" height="21" fill="#fff"/>
<rect x="321" y="1188" width="1" height="18"/>
<rect x="320" y="1189" width="3" height="9"/>
<rect x="321" y="1190" width="1" height="7" fill="#fff"/>
<rect x="326" y="1186" width="1" height="17"/>
<rect x="325" y="1189" width="3" height="4"/>
<rect x="331" y="1173" width="1" height="27"/>
<rect x="330" y="1174" width="3" height="19"/>
<rect x="331" y="1175" width="1" height="17" fill="#fff"/>
<rect x="336" y="1158" width="1" height="18"/>
<rect x="335" y="1160" width="3" height="14"/>
<rect x="336" y="1161" width="1" height="12" fill="#fff"/>
<rect x="341" y="1145" width="1" height="15"/>
<rect x="340" y="1156" width="3" height="4"/>
<rect x="341" y="1157" width="1" height="2" fill="#fff"/>
<rect x="347" y="1147" width="1" height="15"/>
<rect x="346" y="1148" width="3" height="8"/>
<rect x="347" y="1149" width="1" height="6" fill="#fff"/>
<rect x="352" y="1141" width="1" height="23"/>
<rect x="351" y="1148" width="3" height="16"/>
<rect x="357" y="1152" width="1" height="14"/>
<rect x="356" y="1156" width="3" height="8"/>
<rect x="357" y="1157" width="1" height="6" fill="#fff"/>
<rect x="362" y="1150" width="1" height="12"/>
<rect x="361" y="1154" width="3" height="2"/>
<rect x="367" y="1132" width="1" height="22"/>
<rect x="366" y="1144" width="3" height="10"/>
<rect x="367" y="1145" width="1" height="8" fill="#fff"/>
<rect x="372" y="1103" width="1" height="41"/>
<rect x="371" y="1111" width="3" height="33"/>
<rect x="372" y="1112" width="1" height="31" fill="#fff"/>
<rect x="378" y="1105" width="1" height="26"/>
<rect x="377" y="1111" width="3" height="17"/>
<rect x="383" y="1117" width="1" height="15"/>
<rect x="382" y="1127" width="3" height="1"/>
<rect x="388" y="1112" width="1" height="16"/>
<rect x="387" y="1118" width="3" height="10"/>
<rect x="388" y="1119" width="1" height="8" fill="#fff"/>
<rect x="393" y="1102" width="1" height="17"/>
<rect x="392" y="1105" width="3" height="13"/>
<rect x="393" y="1106" width="1" height="11" fill="#fff"/>
<rect x="398" y="1103" width="1" height="9"/>
<rect x="397" y="1105" width="3" height="6"/>
<rect x="403" y="1111" width="1" height="21"/>
<rect x="402" y="1111" width="3" height="20"/>
<rect x="409" y="1081" width="1" height="50"/>
<rect x="408" y="1088" width="3" height="43"/>
<rect x="409" y="1089" width="1" height="41" fill="#fff"/>
<rect x="414" y="1080" width="1" height="19"/>
<rect x="413" y="1088" width="3" height="3"/>
<rect x="419" y="1077" width="1" height="19"/>
<rect x="418" y="1090" width="3" height="1"/>
<rect x="424" y="1085" width="1" height="16"/>
<rect x="423" y="1091" width="3" height="8"/>
<rect x="429" y="1094" width="1" height="10"/>
<rect x="428" y="1099" width="3" height="4"/>
<rect x="435" y="1070" width="1" height="33"/>
<rect x="434" y="1072" width="3" height="31"/>
<rect x="435" y="1073" width="1" height="29" fill="#fff"/>
<rect x="440" y="1064" width="1" height="34"/>
<rect x="439" y="1072" width="3" height="5"/>
<rect x="445" y="1077" width="1" height="22"/>
<rect x="444" y="1077" width="3" height="22"/>
<rect x="450" y="1089" width="1" height="20"/>
<rect x="449" y="1096" width="3" height="3"/>
<rect x="450" y="1097" width="1" height="1" fill="#fff"/>
<rect x="455" y="1091" width="1" height="18"/>
<rect x="454" y="1096" width="3" height="10"/>
<rect x="460" y="1105" width="1" height="19"/>
<rect x="459" y="1106" width="3" height="12"/>
<rect x="466" y="1100" width="1" height="26"/>
<rect x="465" y="1100" width="3" height="18"/>
<rect x="466" y="1101" width="1" height="16" fill="#fff"/>
<rect x="471" y="1095" width="1" height="18"/>
<rect x="470" y="1100" width="3" height="11"/>
<rect x="476" y="1105" width="1" height="14"/>
<rect x="475" y="1108" width="3" height="3"/>
<rect x="476" y="1109" width="1" height="1" fill="#fff"/>
<rect x="481" y="1089" width="1" height="19"/>
<rect x="480" y="1089" width="3" height="19"/>
<rect x="481" y="1090" width="1" height="17" fill="#fff"/>
<rect x="486" y="1089" width="1" height="13"/>
<rect x="485" y="1089" width="3" height="9"/>
<rect x="491" y="1081" width="1" height="25"/>
<rect x="490" y="1098" width="3" height="8"/>
<rect x="497" y="1095" width="1" height="11"/>
<rect x="496" y="1101" width="3" height="4"/>
<rect x="497" y="1102" width="1" height="2" fill="#fff"/>
<rect x="502" y="1090" width="1" height="14"/>
<rect x="501" y="1101" width="3" height="2"/>
<rect x="507" y="1103" width="1" height="16"/>
<rect x="506" y="1103" width="3" height="12"/>
<rect x="512" y="1083" width="1" height="35"/>
<rect x="511" y="1094" width="3" height="21"/>
<rect x="512" y="1095" width="1" height="19" fill="#fff"/>
<rect x="517" y="1085" width="1" height="16"/>
<rect x="516" y="1093" width="3" height="2"/>
<rect x="523" y="1090" width="1" height="24"/>
<rect x="522" y="1094" width="3" height="15"/>
<rect x="528" y="1104" width="1" height="15"/>
<rect x="527" y="1108" width="3" height="4"/>
<rect x="533" y="1097" width="1" height="15"/>
<rect x="532" y="1105" width="3" height="6"/>
<rect x="533" y="1106" width="1" height="4" fill="#fff"/>
<rect x="538" y="1088" width="1" height="24"/>
<rect x="537" y="1101" width="3" height="4"/>
<rect x="538" y="1102" width="1" height="2" fill="#fff"/>
<rect x="543" y="1089" width="1" height="18"/>
<rect x="542" y="1090" width="3" height="10"/>
<rect x="543" y="1091" width="1" height="8" fill="#fff"/>
<rect x="548" y="1015" width="1" height="80"/>
<rect x="547" y="1034" width="3" height="55"/>
<rect x="548" y="1035" width="1" height="53" fill="#fff"/>
<rect x="554" y="947" width="1" height="87"/>
<rect x="553" y="952" width="3" height="82"/>
<rect x="554" y="953" width="1" height="80" fill="#fff"/>
<rect x="559" y="908" width="1" height="89"/>
<rect x="558" y="952" width="3" height="3"/>
<rect x="564" y="940" width="1" height="63"/>
<rect x="563" y="954" width="3" height="3"/>
<rect x="569" y="953" width="1" height="79"/>
<rect x="568" y="956" width="3" height="68"/>
<rect x="574" y="983" width="1" height="65"/>
<rect x="573" y="985" width="3" height="39"/>
<rect x="574" y="986" width="1" height="37" fill="#fff"/>
<rect x="579" y="979" width="1" height="41"/>
<rect x="578" y="985" width="3" height="11"/>
<rect x="585" y="954" width="1" height="55"/>
<rect x="584" y="972" width="3" height="24"/>
<rect x="585" y="973" width="1" height="22" fill="#fff"/>
<rect x="590" y="950" width="1" height="25"/>
<rect x="589" y="952" width="3" height="20"/>
<rect x="590" y="953" width="1" height="18" fill="#fff"/>
<rect x="595" y="877" width="1" height="77"/>
<rect x="594" y="931" width="3" height="22"/>
<rect x="595" y="932" width="1" height="20" fill="#fff"/>
<rect x="600" y="910" width="1" height="55"/>
<rect x="599" y="925" width="3" height="6"/>
<rect x="600" y="926" width="1" height="4" fill="#fff"/>
<rect x="605" y="894" width="1" height="46"/>
<rect x="604" y="895" width="3" height="30"/>
<rect x="605" y="896" width="1" height="28" fill="#fff"/>
<rect x="611" y="890" width="1" height="43"/>
<rect x="610" y="895" width="3" height="38"/>
<rect x="616" y="924" width="1" height="28"/>
<rect x="615" y="932" width="3" height="5"/>
<rect x="621" y="934" width="1" height="29"/>
<rect x="620" y="936" width="3" height="21"/>
<rect x="626" y="936" width="1" height="46"/>
<rect x="625" y="956" width="3" height="22"/>
<rect x="631" y="949" width="1" height="33"/>
<rect x="630" y="950" width="3" height="28"/>
<rect x="631" y="951" width="1" height="26" fill="#fff"/>
<rect x="636" y="924" width="1" height="34"/>
<rect x="635" y="930" width="3" height="20"/>
<rect x="636" y="931" width="1" height="18" fill="#fff"/>
<rect x="642" y="917" width="1" height="27"/>
<rect x="641" y="920" width="3" height="10"/>
<rect x="642" y="921" width="1" height="8" fill="#fff"/>
<rect x="647" y="916" width="1" height="34"/>
<rect x="646" y="920" width="3" height="30"/>
<rect x="652" y="938" width="1" height="30"/>
<rect x="651" y="946" width="3" height="4"/>
<rect x="652" y="947" width="1" height="2" fill="#fff"/>
<rect x="657" y="946" width="1" height="19"/>
<rect x="656" y="946" width="3" height="9"/>
<rect x="662" y="944" width="1" height="167"/>
<rect x="661" y="954" width="3" height="123"/>
<rect x="667" y="1008" width="1" height="96"/>
<rect x="666" y="1014" width="3" height="63"/>
<rect x="667" y="1015" width="1" height="61" fill="#fff"/>
<rect x="673" y="1014" width="1" height="39"/>
<rect x="672" y="1014" width="3" height="4"/>
<rect x="678" y="992" width="1" height="37"/>
<rect x="677" y="1012" width="3" height="6"/>
<rect x="678" y="1013" width="1" height="4" fill="#fff"/>
<rect x="683" y="1000" width="1" height="24"/>
<rect x="682" y="1012" width="3" height="8"/>
<rect x="688" y="1006" width="1" height="32"/>
<rect x="687" y="1011" width="3" height="9"/>
<rect x="688" y="1012" width="1" height="7" fill="#fff"/>
<rect x="693" y="1002" width="1" height="34"/>
<rect x="692" y="1011" width="3" height="1"/>
<rect x="699" y="997" width="1" height="19"/>
<rect x="698" y="1012" width="3" height="4"/>
<rect x="704" y="1015" width="1" height="51"/>
<rect x="703" y="1016" width="3" height="40"/>
<rect x="709" y="1038" width="1" height="32"/>
<rect x="708" y="1051" width="3" height="5"/>
<rect x="709" y="1052" width="1" height="3" fill="#fff"/>
<rect x="714" y="1047" width="1" height="44"/>
<rect x="713" y="1048" width="3" height="3"/>
<rect x="714" y="1049" width="1" height="1" fill="#fff"/>
<rect x="719" y="1008" width="1" height="40"/>
<rect x="718" y="1026" width="3" height="22"/>
<rect x="719" y="1027" width="1" height="20" fill="#fff"/>
<rect x="724" y="1000" width="1" height="33"/>
<rect x="723" y="1002" width="3" height="24"/>
<rect x="724" y="1003" width="1" height="22" fill="#fff"/>
<rect x="730" y="988" width="1" height="25"/>
<rect x="729" y="998" width="3" height="4"/>
<rect x="730" y="999" width="1" height="2" fill="#fff"/>
<rect x="735" y="973" width="1" height="31"/>
<rect x="734" y="973" width="3" height="25"/>
<rect x="735" y="974" width="1" height="23" fill="#fff"/>
<rect x="740" y="962" width="1" height="59"/>
<rect x="739" y="973" width="3" height="45"/>
<rect x="745" y="1012" width="1" height="26"/>
<rect x="744" y="1018" width="3" height="11"/>
<rect x="750" y="980" width="1" height="58"/>
<rect x="749" y="984" width="3" height="45"/>
<rect x="750" y="985" width="1" height="43" fill="#fff"/>
<rect x="755" y="904" width="1" height="106"/>
<rect x="754" y="909" width="3" height="75"/>
<rect x="755" y="910" width="1" height="73" fill="#fff"/>
<rect x="761" y="796" width="1" height="113"/>
<rect x="760" y="800" width="3" height="109"/>
<rect x="761" y="801" width="1" height="107" fill="#fff"/>
<rect x="766" y="767" width="1" height="57"/>
<rect x="765" y="800" width="3" height="12"/>
<rect x="771" y="773" width="1" height="40"/>
<rect x="770" y="784" width="3" height="28"/>
<rect x="771" y="785" width="1" height="26" fill="#fff"/>
<rect x="776" y="780" width="1" height="93"/>
<rect x="775" y="784" width="3" height="34"/>
<rect x="781" y="793" width="1" height="46"/>
<rect x="780" y="818" width="3" height="3"/>
<rect x="786" y="789" width="1" height="38"/>
<rect x="785" y="808" width="3" height="13"/>
<rect x="786" y="809" width="1" height="11" fill="#fff"/>
<rect x="792" y="764" width="1" height="66"/>
<rect x="791" y="787" width="3" height="21"/>
<rect x="792" y="788" width="1" height="19" fill="#fff"/>
<rect x="797" y="639" width="1" height="149"/>
<rect x="796" y="653" width="3" height="135"/>
<rect x="797" y="654" width="1" height="133" fill="#fff"/>
<rect x="802" y="593" width="1" height="61"/>
<rect x="801" y="597" width="3" height="56"/>
<rect x="802" y="598" width="1" height="54" fill="#fff"/>
<rect x="807" y="544" width="1" height="63"/>
<rect x="806" y="570" width="3" height="27"/>
<rect x="807" y="571" width="1" height="25" fill="#fff"/>
<rect x="812" y="339" width="1" height="231"/>
<rect x="811" y="451" width="3" height="119"/>
<rect x="812" y="452" width="1" height="117" fill="#fff"/>
<rect x="818" y="376" width="1" height="142"/>
<rect x="817" y="451" width="3" height="13"/>
<rect x="823" y="406" width="1" height="76"/>
<rect x="822" y="413" width="3" height="51"/>
<rect x="823" y="414" width="1" height="49" fill="#fff"/>
<rect x="828" y="408" width="1" height="34"/>
<rect x="827" y="413" width="3" height="3"/>
<rect x="833" y="376" width="1" height="92"/>
<rect x="832" y="412" width="3" height="4"/>
<rect x="833" y="413" width="1" height="2" fill="#fff"/>
<rect x="838" y="352" width="1" height="65"/>
<rect x="837" y="376" width="3" height="36"/>
<rect x="838" y="377" width="1" height="34" fill="#fff"/>
<rect x="843" y="343" width="1" height="59"/>
<rect x="842" y="376" width="3" height="6"/>
<rect x="849" y="365" width="1" height="66"/>
<rect x="848" y="382" width="3" height="46"/>
<rect x="854" y="417" width="1" height="84"/>
<rect x="853" y="427" width="3" height="35"/>
<rect x="859" y="402" width="1" height="69"/>
<rect x="858" y="414" width="3" height="47"/>
<rect x="859" y="415" width="1" height="45" fill="#fff"/>
<rect x="864" y="385" width="1" height="40"/>
<rect x="863" y="389" width="3" height="25"/>
<rect x="864" y="390" width="1" height="23" fill="#fff"/>
<rect x="869" y="357" width="1" height="41"/>
<rect x="868" y="368" width="3" height="21"/>
<rect x="869" y="369" width="1" height="19" fill="#fff"/>
<rect x="874" y="325" width="1" height="78"/>
<rect x="873" y="353" width="3" height="15"/>
<rect x="874" y="354" width="1" height="13" fill="#fff"/>
<rect x="880" y="291" width="1" height="84"/>
<rect x="879" y="353" width="3" height="17"/>
<rect x="885" y="330" width="1" height="60"/>
<rect x="884" y="370" width="3" height="4"/>
<rect x="890" y="364" width="1" height="70"/>
<rect x="889" y="374" width="3" height="54"/>
<rect x="895" y="379" width="1" height="49"/>
<rect x="894" y="399" width="3" height="29"/>
<rect x="895" y="400" width="1" height="27" fill="#fff"/>
<rect x="900" y="383" width="1" height="58"/>
<rect x="899" y="399" width="3" height="40"/>
<rect x="906" y="424" width="1" height="166"/>
<rect x="905" y="439" width="3" height="64"/>
<rect x="911" y="478" width="1" height="133"/>
<rect x="910" y="502" width="3" height="31"/>
<rect x="916" y="513" width="1" height="107"/>
<rect x="915" y="533" width="3" height="5"/>
<rect x="921" y="530" width="1" height="74"/>
<rect x="920" y="537" width="3" height="39"/>
<rect x="926" y="533" width="1" height="85"/>
<rect x="925" y="537" width="3" height="39"/>
<rect x="926" y="538" width="1" height="37" fill="#fff"/>
<rect x="931" y="516" width="1" height="38"/>
<rect x="930" y="523" width="3" height="14"/>
<rect x="931" y="524" width="1" height="12" fill="#fff"/>
<rect x="937" y="474" width="1" height="50"/>
<rect x="936" y="486" width="3" height="37"/>
<rect x="937" y="487" width="1" height="35" fill="#fff"/>
<rect x="942" y="470" width="1" height="40"/>
<rect x="941" y="487" width="3" height="2"/>
<rect x="947" y="448" width="1" height="49"/>
<rect x="946" y="474" width="3" height="14"/>
<rect x="947" y="475" width="1" height="12" fill="#fff"/>
<rect x="952" y="465" width="1" height="32"/>
<rect x="951" y="474" width="3" height="13"/>
<rect x="957" y="480" width="1" height="60"/>
<rect x="956" y="487" width="3" height="37"/>
<rect x="962" y="504" width="1" height="27"/>
<rect x="961" y="514" width="3" height="10"/>
<rect x="962" y="515" width="1" height="8" fill="#fff"/>
<rect x="968" y="467" width="1" height="63"/>
<rect x="967" y="474" width="3" height="40"/>
<rect x="968" y="475" width="1" height="38" fill="#fff"/>
<rect x="973" y="465" width="1" height="17"/>
<rect x="972" y="474" width="3" height="4"/>
<rect x="978" y="473" width="1" height="26"/>
<rect x="977" y="478" width="3" height="1"/>
<rect x="983" y="420" width="1" height="59"/>
<rect x="982" y="423" width="3" height="55"/>
<rect x="983" y="424" width="1" height="53" fill="#fff"/>
<rect x="988" y="401" width="1" height="34"/>
<rect x="987" y="423" width="3" height="10"/>
<rect x="994" y="419" width="1" height="37"/>
<rect x="993" y="425" width="3" height="8"/>
<rect x="994" y="426" width="1" height="6" fill="#fff"/>
<rect x="999" y="368" width="1" height="58"/>
<rect x="998" y="391" width="3" height="34"/>
<rect x="999" y="392" width="1" height="32" fill="#fff"/>
<rect x="1004" y="377" width="1" height="36"/>
<rect x="1003" y="391" width="3" height="15"/>
<rect x="1009" y="397" width="1" height="25"/>
<rect x="1008" y="406" width="3" height="8"/>
<rect x="1014" y="407" width="1" height="31"/>
<rect x="1013" y="414" width="3" height="24"/>
<rect x="1019" y="425" width="1" height="39"/>
<rect x="1018" y="437" width="3" height="11"/>
<rect x="1025" y="433" width="1" height="75"/>
<rect x="1024" y="447" width="3" height="23"/>
<rect x="1030" y="453" width="1" height="32"/>
<rect x="1029" y="470" width="3" height="15"/>
<rect x="1035" y="451" width="1" height="37"/>
<rect x="1034" y="459" width="3" height="26"/>
<rect x="1035" y="460" width="1" height="24" fill="#fff"/>
<rect x="1040" y="434" width="1" height="75"/>
<rect x="1039" y="459" width="3" height="17"/>
<rect x="1045" y="436" width="1" height="53"/>
<rect x="1044" y="438" width="3" height="38"/>
<rect x="1045" y="439" width="1" height="36" fill="#fff"/>
<rect x="1050" y="370" width="1" height="75"/>
<rect x="1049" y="413" width="3" height="25"/>
<rect x="1050" y="414" width="1" height="23" fill="#fff"/>
<rect x="1056" y="412" width="1" height="107"/>
<rect x="1055" y="413" width="3" height="89"/>
<rect x="1061" y="411" width="1" height="105"/>
<rect x="1060" y="417" width="3" height="84"/>
<rect x="1061" y="418" width="1" height="82" fill="#fff"/>
<rect x="1066" y="399" width="1" height="49"/>
<rect x="1065" y="418" width="3" height="3"/>
<rect x="1071" y="421" width="1" height="52"/>
<rect x="1070" y="421" width="3" height="19"/>
<rect x="1076" y="398" width="1" height="43"/>
<rect x="1075" y="422" width="3" height="18"/>
<rect x="1076" y="423" width="1" height="16" fill="#fff"/>
<rect x="1082" y="394" width="1" height="42"/>
<rect x="1081" y="394" width="3" height="28"/>
<rect x="1082" y="395" width="1" height="26" fill="#fff"/>
<rect x="1087" y="390" width="1" height="48"/>
<rect x="1086" y="394" width="3" height="29"/>
<rect x="1092" y="405" width="1" height="31"/>
<rect x="1091" y="422" width="3" height="14"/>
<rect x="1097" y="418" width="1" height="22"/>
<rect x="1096" y="418" width="3" height="18"/>
<rect x="1097" y="419" width="1" height="16" fill="#fff"/>
<rect x="1102" y="389" width="1" height="51"/>
<rect x="1101" y="394" width="3" height="24"/>
<rect x="1102" y="395" width="1" height="22" fill="#fff"/>
<rect x="1107" y="379" width="1" height="25"/>
<rect x="1106" y="394" width="3" height="3"/>
<rect x="1113" y="382" width="1" height="21"/>
<rect x="1112" y="388" width="3" height="9"/>
<rect x="1113" y="389" width="1" height="7" fill="#fff"/>
<rect x="1118" y="384" width="1" height="27"/>
<rect x="1117" y="388" width="3" height="16"/>
<rect x="1123" y="350" width="1" height="60"/>
<rect x="1122" y="358" width="3" height="46"/>
<rect x="1123" y="359" width="1" height="44" fill="#fff"/>
<rect x="1128" y="344" width="1" height="21"/>
<rect x="1127" y="345" width="3" height="13"/>
<rect x="1128" y="346" width="1" height="11" fill="#fff"/>
<rect x="1133" y="339" width="1" height="31"/>
<rect x="1132" y="340" width="3" height="5"/>
<rect x="1133" y="341" width="1" height="3" fill="#fff"/>
<rect x="1138" y="311" width="1" height="37"/>
<rect x="1137" y="312" width="3" height="28"/>
<rect x="1138" y="313" width="1" height="26" fill="#fff"/>
<rect x="1144" y="292" width="1" height="42"/>
<rect x="1143" y="296" width="3" height="17"/>
<rect x="1144" y="297" width="1" height="15" fill="#fff"/>
<rect x="1149" y="278" width="1" height="29"/>
<rect x="1148" y="296" width="3" height="7"/>
<rect x="1154" y="283" width="1" height="52"/>
<rect x="1153" y="284" width="3" height="19"/>
<rect x="1154" y="285" width="1" height="17" fill="#fff"/>
<rect x="1159" y="240" width="1" height="51"/>
<rect x="1158" y="244" width="3" height="40"/>
<rect x="1159" y="245" width="1" height="38" fill="#fff"/>
<rect x="1164" y="223" width="1" height="53"/>
<rect x="1163" y="230" width="3" height="14"/>
<rect x="1164" y="231" width="1" height="12" fill="#fff"/>
<rect x="1170" y="222" width="1" height="45"/>
<rect x="1169" y="229" width="3" height="35"/>
<rect x="1175" y="251" width="1" height="29"/>
<rect x="1174" y="252" width="3" height="12"/>
<rect x="1175" y="253" width="1" height="10" fill="#fff"/>
<rect x="1180" y="177" width="1" height="83"/>
<rect x="1179" y="210" width="3" height="42"/>
<rect x="1180" y="211" width="1" height="40" fill="#fff"/>
<rect x="1185" y="202" width="1" height="38"/>
<rect x="1184" y="210" width="3" height="5"/>
<rect x="1190" y="207" width="1" height="43"/>
<rect x="1189" y="214" width="3" height="35"/>
<rect x="1195" y="239" width="1" height="23"/>
<rect x="1194" y="244" width="3" height="4"/>
<rect x="1195" y="245" width="1" height="2" fill="#fff"/>
<rect x="1201" y="233" width="1" height="26"/>
<rect x="1200" y="235" width="3" height="9"/>
<rect x="1201" y="236" width="1" height="7" fill="#fff"/>
<rect x="1206" y="218" width="1" height="36"/>
<rect x="1205" y="235" width="3" height="19"/>
<rect x="1211" y="235" width="1" height="32"/>
<rect x="1210" y="254" width="3" height="4"/>
<rect x="1216" y="251" width="1" height="27"/>
<rect x="1215" y="257" width="3" height="10"/>
<rect x="1221" y="236" width="1" height="33"/>
<rect x="1220" y="264" width="3" height="3"/>
<rect x="1221" y="265" width="1" height="1" fill="#fff"/>
<rect x="1226" y="254" width="1" height="18"/>
<rect x="1225" y="264" width="3" height="1"/>
<rect x="1232" y="241" width="1" height="31"/>
<rect x="1231" y="244" width="3" height="20"/>
<rect x="1232" y="245" width="1" height="18" fill="#fff"/>
<rect x="1237" y="243" width="1" height="31"/>
<rect x="1236" y="243" width="3" height="30"/>
<rect x="1242" y="264" width="1" height="10"/>
<rect x="1241" y="272" width="3" height="2"/>
<rect x="1247" y="264" width="1" height="36"/>
<rect x="1246" y="272" width="3" height="19"/>
<rect x="1252" y="286" width="1" height="32"/>
<rect x="1251" y="291" width="3" height="25"/>
<rect x="1258" y="301" width="1" height="26"/>
<rect x="1257" y="313" width="3" height="2"/>
<rect x="1263" y="298" width="1" height="35"/>
<rect x="1262" y="298" width="3" height="15"/>
<rect x="1263" y="299" width="1" height="13" fill="#fff"/>
<rect x="1268" y="285" width="1" height="27"/>
<rect x="1267" y="285" width="3" height="13"/>
<rect x="1268" y="286" width="1" height="11" fill="#fff"/>
<rect x="1273" y="266" width="1" height="42"/>
<rect x="1272" y="276" width="3" height="9"/>
<rect x="1273" y="277" width="1" height="7" fill="#fff"/>
<rect x="1278" y="219" width="1" height="75"/>
<rect x="1277" y="276" width="3" height="17"/>
<rect x="1283" y="285" width="1" height="26"/>
<rect x="1282" y="293" width="3" height="2"/>
<rect x="1289" y="285" width="1" height="24"/>
<rect x="1288" y="294" width="3" height="13"/>
<rect x="1294" y="289" width="1" height="26"/>
<rect x="1293" y="306" width="3" height="8"/>
<rect x="1299" y="299" width="1" height="22"/>
<rect x="1298" y="313" width="3" height="8"/>
<rect x="1304" y="302" width="1" height="21"/>
<rect x="1303" y="307" width="3" height="13"/>
<rect x="1304" y="308" width="1" height="11" fill="#fff"/>
<rect x="1309" y="307" width="1" height="31"/>
<rect x="1308" y="307" width="3" height="15"/>
<rect x="1314" y="293" width="1" height="45"/>
<rect x="1313" y="297" width="3" height="24"/>
<rect x="1314" y="298" width="1" height="22" fill="#fff"/>
<rect x="1320" y="297" width="1" height="33"/>
<rect x="1319" y="297" width="3" height="21"/>
<rect x="1325" y="313" width="1" height="26"/>
<rect x="1324" y="318" width="3" height="16"/>
<rect x="1330" y="334" width="1" height="22"/>
<rect x="1329" y="334" width="3" height="22"/>
<rect x="1335" y="351" width="1" height="13"/>
<rect x="1334" y="356" width="3" height="2"/>
<rect x="1340" y="352" width="1" height="31"/>
<rect x="1339" y="353" width="3" height="30"/>
<rect x="1346" y="366" width="1" height="19"/>
<rect x="1345" y="375" width="3" height="8"/>
<rect x="1346" y="376" width="1" height="6" fill="#fff"/>
<rect x="1351" y="363" width="1" height="15"/>
<rect x="1350" y="368" width="3" height="7"/>
<rect x="1351" y="369" width="1" height="5" fill="#fff"/>
<rect x="1356" y="352" width="1" height="21"/>
<rect x="1355" y="354" width="3" height="14"/>
<rect x="1356" y="355" width="1" height="12" fill="#fff"/>
<rect x="1361" y="353" width="1" height="14"/>
<rect x="1360" y="354" width="3" height="7"/>
<rect x="1366" y="356" width="1" height="16"/>
<rect x="1365" y="366" width="3" height="3"/>
<rect x="1371" y="368" width="1" height="40"/>
<rect x="1370" y="368" width="3" height="40"/>
<rect x="1377" y="367" width="1" height="41"/>
<rect x="1376" y="373" width="3" height="35"/>
<rect x="1377" y="374" width="1" height="33" fill="#fff"/>
<rect x="1382" y="359" width="1" height="44"/>
<rect x="1381" y="373" width="3" height="24"/>
<rect x="1387" y="365" width="1" height="41"/>
<rect x="1386" y="367" width="3" height="30"/>
<rect x="1387" y="368" width="1" height="28" fill="#fff"/>
<rect x="1392" y="354" width="1" height="24"/>
<rect x="1391" y="358" width="3" height="10"/>
<rect x="1392" y="359" width="1" height="8" fill="#fff"/>
<rect x="1397" y="355" width="1" height="12"/>
<rect x="1396" y="358" width="3" height="8"/>
<rect x="1402" y="346" width="1" height="21"/>
<rect x="1401" y="350" width="3" height="16"/>
<rect x="1402" y="351" width="1" height="14" fill="#fff"/>
<rect x="1408" y="343" width="1" height="25"/>
<rect x="1407" y="350" width="3" height="18"/>
<rect x="1413" y="332" width="1" height="49"/>
<rect x="1412" y="337" width="3" height="31"/>
<rect x="1413" y="338" width="1" height="29" fill="#fff"/>
<rect x="1418" y="323" width="1" height="21"/>
<rect x="1417" y="337" width="3" height="1"/>
<rect x="1423" y="327" width="1" height="14"/>
<rect x="1422" y="332" width="3" height="6"/>
<rect x="1423" y="333" width="1" height="4" fill="#fff"/>
<rect x="1428" y="322" width="1" height="18"/>
<rect x="1427" y="322" width="3" height="10"/>
<rect x="1428" y="323" width="1" height="8" fill="#fff"/>
<rect x="1433" y="322" width="1" height="9"/>
<rect x="1432" y="322" width="3" height="7"/>
<rect x="1439" y="323" width="1" height="18"/>
<rect x="1438" y="328" width="3" height="1"/>
<rect x="1444" y="329" width="1" height="19"/>
<rect x="1443" y="329" width="3" height="19"/>
<rect x="1449" y="337" width="1" height="25"/>
<rect x="1448" y="348" width="3" height="2"/>
<rect x="1454" y="338" width="1" height="29"/>
<rect x="1453" y="339" width="3" height="10"/>
<rect x="1454" y="340" width="1" height="8" fill="#fff"/>
<rect x="1459" y="338" width="1" height="19"/>
<rect x="1458" y="339" width="3" height="18"/>
<rect x="1465" y="349" width="1" height="18"/>
<rect x="1464" y="356" width="3" height="2"/>
<rect x="1470" y="334" width="1" height="24"/>
<rect x="1469" y="336" width="3" height="22"/>
<rect x="1470" y="337" width="1" height="20" fill="#fff"/>
<rect x="1475" y="334" width="1" height="19"/>
<rect x="1474" y="336" width="3" height="8"/>
<rect x="1480" y="341" width="1" height="18"/>
<rect x="1479" y="343" width="3" height="15"/>
<rect x="1485" y="346" width="1" height="17"/>
<rect x="1484" y="358" width="3" height="3"/>
<rect x="1490" y="355" width="1" height="21"/>
<rect x="1489" y="360" width="3" height="10"/>
<rect x="1496" y="341" width="1" height="31"/>
<rect x="1495" y="342" width="3" height="28"/>
<rect x="1496" y="343" width="1" height="26" fill="#fff"/>
<rect x="1501" y="339" width="1" height="11"/>
<rect x="1500" y="342" width="3" height="3"/>
<rect x="1506" y="329" width="1" height="21"/>
<rect x="1505" y="332" width="3" height="12"/>
<rect x="1506" y="333" width="1" height="10" fill="#fff"/>
<rect x="1511" y="325" width="1" height="28"/>
<rect x="1510" y="332" width="3" height="9"/>
<rect x="1516" y="335" width="1" height="19"/>
<rect x="1515" y="340" width="3" height="9"/>
<rect x="1521" y="343" width="1" height="20"/>
<rect x="1520" y="348" width="3" height="14"/>
<rect x="1527" y="361" width="1" height="25"/>
<rect x="1526" y="361" width="3" height="13"/>
<rect x="1532" y="360" width="1" height="23"/>
<rect x="1531" y="373" width="3" height="5"/>
<rect x="1537" y="353" width="1" height="36"/>
<rect x="1536" y="368" width="3" height="10"/>
<rect x="1537" y="369" width="1" height="8" fill="#fff"/>
<rect x="1542" y="351" width="1" height="32"/>
<rect x="1541" y="355" width="3" height="13"/>
<rect x="1542" y="356" width="1" height="11" fill="#fff"/>
<rect x="1547" y="339" width="1" height="47"/>
<rect x="1546" y="355" width="3" height="23"/>
<rect x="1553" y="349" width="1" height="48"/>
<rect x="1552" y="360" width="3" height="18"/>
<rect x="1553" y="361" width="1" height="16" fill="#fff"/>
<rect x="1558" y="308" width="1" height="70"/>
<rect x="1557" y="313" width="3" height="47"/>
<rect x="1558" y="314" width="1" height="45" fill="#fff"/>
<rect x="1563" y="286" width="1" height="29"/>
<rect x="1562" y="292" width="3" height="21"/>
<rect x="1563" y="293" width="1" height="19" fill="#fff"/>
<rect x="1568" y="248" width="1" height="64"/>
<rect x="1567" y="261" width="3" height="31"/>
<rect x="1568" y="262" width="1" height="29" fill="#fff"/>
<rect x="1573" y="199" width="1" height="77"/>
<rect x="1572" y="215" width="3" height="46"/>
<rect x="1573" y="216" width="1" height="44" fill="#fff"/>
<rect x="1578" y="199" width="1" height="59"/>
<rect x="1577" y="215" width="3" height="34"/>
<rect x="1584" y="244" width="1" height="30"/>
<rect x="1583" y="249" width="3" height="16"/>
<rect x="1589" y="242" width="1" height="31"/>
<rect x="1588" y="254" width="3" height="11"/>
<rect x="1589" y="255" width="1" height="9" fill="#fff"/>
<rect x="1594" y="225" width="1" height="31"/>
<rect x="1593" y="234" width="3" height="20"/>
<rect x="1594" y="235" width="1" height="18" fill="#fff"/>
<rect x="1599" y="205" width="1" height="47"/>
<rect x="1598" y="211" width="3" height="23"/>
<rect x="1599" y="212" width="1" height="21" fill="#fff"/>
<rect x="1604" y="189" width="1" height="31"/>
<rect x="1603" y="196" width="3" height="15"/>
<rect x="1604" y="197" width="1" height="13" fill="#fff"/>
<rect x="1609" y="178" width="1" height="34"/>
<rect x="1608" y="194" width="3" height="1"/>
<rect x="1615" y="168" width="1" height="32"/>
<rect x="1614" y="192" width="3" height="3"/>
<rect x="1615" y="193" width="1" height="1" fill="#fff"/>
<rect x="1620" y="178" width="1" height="82"/>
<rect x="1619" y="192" width="3" height="26"/>
<rect x="1625" y="177" width="1" height="43"/>
<rect x="1624" y="177" width="3" height="41"/>
<rect x="1625" y="178" width="1" height="39" fill="#fff"/>
<rect x="1630" y="145" width="1" height="44"/>
<rect x="1629" y="165" width="3" height="12"/>
<rect x="1630" y="166" width="1" height="10" fill="#fff"/>
<rect x="1635" y="139" width="1" height="27"/>
<rect x="1634" y="152" width="3" height="13"/>
<rect x="1635" y="153" width="1" height="11" fill="#fff"/>
<rect x="1641" y="151" width="1" height="55"/>
<rect x="1640" y="152" width="3" height="16"/>
<rect x="1646" y="157" width="1" height="76"/>
<rect x="1645" y="167" width="3" height="24"/>
<rect x="1651" y="176" width="1" height="53"/>
<rect x="1650" y="190" width="3" height="18"/>
<rect x="1656" y="161" width="1" height="50"/>
<rect x="1655" y="161" width="3" height="47"/>
<rect x="1656" y="162" width="1" height="45" fill="#fff"/>
<rect x="1661" y="148" width="1" height="23"/>
<rect x="1660" y="152" width="3" height="9"/>
<rect x="1661" y="153" width="1" height="7" fill="#fff"/>
<rect x="1666" y="124" width="1" height="51"/>
<rect x="1665" y="152" width="3" height="22"/>
<rect x="1672" y="145" width="1" height="41"/>
<rect x="1671" y="173" width="3" height="6"/>
<rect x="1677" y="158" width="1" height="33"/>
<rect x="1676" y="172" width="3" height="7"/>
<rect x="1677" y="173" width="1" height="5" fill="#fff"/>
<rect x="1682" y="156" width="1" height="22"/>
<rect x="1681" y="172" width="3" height="5"/>
<rect x="1687" y="174" width="1" height="22"/>
<rect x="1686" y="177" width="3" height="7"/>
<rect x="1692" y="183" width="1" height="35"/>
<rect x="1691" y="184" width="3" height="33"/>
<rect x="1697" y="211" width="1" height="27"/>
<rect x="1696" y="216" width="3" height="20"/>
<rect x="1703" y="224" width="1" height="42"/>
<rect x="1702" y="236" width="3" height="24"/>
<rect x="1708" y="252" width="1" height="29"/>
<rect x="1707" y="260" width="3" height="5"/>
<rect x="1713" y="242" width="1" height="24"/>
<rect x="1712" y="245" width="3" height="20"/>
<rect x="1713" y="246" width="1" height="18" fill="#fff"/>
<rect x="1718" y="237" width="1" height="18"/>
<rect x="1717" y="238" width="3" height="7"/>
<rect x="1718" y="239" width="1" height="5" fill="#fff"/>
<rect x="1723" y="220" width="1" height="37"/>
<rect x="1722" y="238" width="3" height="6"/>
<rect x="1729" y="228" width="1" height="17"/>
<rect x="1728" y="240" width="3" height="4"/>
<rect x="1729" y="241" width="1" height="2" fill="#fff"/>
<rect x="1734" y="220" width="1" height="24"/>
<rect x="1733" y="220" width="3" height="20"/>
<rect x="1734" y="221" width="1" height="18" fill="#fff"/>
<rect x="1739" y="213" width="1" height="28"/>
<rect x="1738" y="220" width="3" height="20"/>
<rect x="1744" y="210" width="1" height="30"/>
<rect x="1743" y="224" width="3" height="16"/>
<rect x="1744" y="225" width="1" height="14" fill="#fff"/>
<rect x="1749" y="185" width="1" height="42"/>
<rect x="1748" y="196" width="3" height="28"/>
<rect x="1749" y="197" width="1" height="26" fill="#fff"/>
<rect x="1754" y="181" width="1" height="29"/>
<rect x="1753" y="196" width="3" height="8"/>
<rect x="1760" y="196" width="1" height="26"/>
<rect x="1759" y="204" width="3" height="18"/>
<rect x="1765" y="203" width="1" height="21"/>
<rect x="1764" y="209" width="3" height="13"/>
<rect x="1765" y="210" width="1" height="11" fill="#fff"/>
<rect x="1770" y="184" width="1" height="37"/>
<rect x="1769" y="196" width="3" height="13"/>
<rect x="1770" y="197" width="1" height="11" fill="#fff"/>
<rect x="1775" y="193" width="1" height="49"/>
<rect x="1774" y="196" width="3" height="32"/>
<rect x="1780" y="208" width="1" height="28"/>
<rect x="1779" y="224" width="3" height="4"/>
<rect x="1780" y="225" width="1" height="2" fill="#fff"/>
<rect x="1785" y="220" width="1" height="26"/>
<rect x="1784" y="224" width="3" height="21"/>
<rect x="1791" y="237" width="1" height="25"/>
<rect x="1790" y="245" width="3" height="11"/>
<rect x="1796" y="244" width="1" height="19"/>
<rect x="1795" y="256" width="3" height="4"/>
<rect x="1801" y="250" width="1" height="12"/>
<rect x="1800" y="256" width="3" height="4"/>
<rect x="1801" y="257" width="1" height="2" fill="#fff"/>
<rect x="1806" y="235" width="1" height="39"/>
<rect x="1805" y="240" width="3" height="16"/>
<rect x="1806" y="241" width="1" height="14" fill="#fff"/>
<rect x="1811" y="236" width="1" height="16"/>
<rect x="1810" y="240" width="3" height="11"/>
<rect x="1817" y="247" width="1" height="17"/>
<rect x="1816" y="247" width="3" height="4"/>
<rect x="1817" y="248" width="1" height="2" fill="#fff"/>
<rect x="1822" y="235" width="1" height="13"/>
<rect x="1821" y="236" width="3" height="11"/>
<rect x="1822" y="237" width="1" height="9" fill="#fff"/>
<rect x="1827" y="229" width="1" height="13"/>
<rect x="1826" y="232" width="3" height="4"/>
<rect x="1827" y="233" width="1" height="2" fill="#fff"/>
<rect x="1832" y="219" width="1" height="14"/>
<rect x="1831" y="228" width="3" height="4"/>
<rect x="1832" y="229" width="1" height="2" fill="#fff"/>
<rect x="1837" y="219" width="1" height="18"/>
<rect x="1836" y="228" width="3" height="8"/>
<rect x="1842" y="233" width="1" height="11"/>
<rect x="1841" y="236" width="3" height="6"/>
<rect x="1848" y="223" width="1" height="22"/>
<rect x="1847" y="228" width="3" height="14"/>
<rect x="1848" y="229" width="1" height="12" fill="#fff"/>
<rect x="1853" y="223" width="1" height="18"/>
<rect x="1852" y="224" width="3" height="4"/>
<rect x="1853" y="225" width="1" height="2" fill="#fff"/>
<rect x="1858" y="206" width="1" height="20"/>
<rect x="1857" y="218" width="3" height="6"/>
<rect x="1858" y="219" width="1" height="4" fill="#fff"/>
<rect x="1863" y="214" width="1" height="13"/>
<rect x="1862" y="218" width="3" height="8"/>
<rect x="1868" y="224" width="1" height="12"/>
<rect x="1867" y="225" width="3" height="3"/>
<rect x="1873" y="221" width="1" height="16"/>
<rect x="1872" y="228" width="3" height="4"/>
<rect x="1879" y="228" width="1" height="10"/>
<rect x="1878" y="232" width="3" height="6"/>
<rect x="1884" y="228" width="1" height="14"/>
<rect x="1883" y="233" width="3" height="5"/>
<rect x="1889" y="234" width="1" height="25"/>
<rect x="1888" y="237" width="3" height="15"/>
<rect x="1894" y="222" width="1" height="34"/>
<rect x="1893" y="223" width="3" height="29"/>
<rect x="1894" y="224" width="1" height="27" fill="#fff"/>
<rect x="1899" y="202" width="1" height="28"/>
<rect x="1898" y="211" width="3" height="12"/>
<rect x="1899" y="212" width="1" height="10" fill="#fff"/>
<rect x="1905" y="197" width="1" height="16"/>
<rect x="1904" y="205" width="3" height="6"/>
<rect x="1905" y="206" width="1" height="4" fill="#fff"/>
<rect x="1910" y="203" width="1" height="42"/>
<rect x="1909" y="205" width="3" height="35"/>
<rect x="1915" y="229" width="1" height="21"/>
<rect x="1914" y="234" width="3" height="6"/>
<rect x="1915" y="235" width="1" height="4" fill="#fff"/>
<rect x="1920" y="231" width="1" height="9"/>
<rect x="1919" y="234" width="3" height="1"/>
</g>
<!-- red trendline -->
<path d="M30.9 1043.5L183.3 1236.2" stroke="#f23645" stroke-width="2" fill="none"/>
<!-- purple lines -->
<rect x="821" y="175.2" width="1177.7" height="2" fill="#5a2bb8"/>
<rect x="884.4" y="620" width="664" height="2" fill="#5a2bb8"/>
<path d="M822.7 393.9H1667" stroke="#5a2bb8" stroke-width="2" stroke-dasharray="10.4 11.6" fill="none"/>
<rect x="10" y="485" width="2939" height="2" fill="#ff9800"/>
<path d="M10 846H1411" stroke="#f50a23" stroke-width="2" stroke-dasharray="2 4" fill="none" shape-rendering="crispEdges"/>
<path d="M10 235.5H2949" stroke="#1a1d27" stroke-width="1" stroke-dasharray="1 2" fill="none" shape-rendering="crispEdges"/>
<rect x="10" y="694" width="2939" height="8.8" fill="rgba(0,188,212,0.35)"/>
<rect x="10" y="759.2" width="2939" height="6.3" fill="rgba(245,124,0,0.34)"/>
<rect x="10" y="834.2" width="2939" height="7.5" fill="rgba(245,124,0,0.34)"/>
<rect x="10" y="1011.2" width="2939" height="4.4" fill="rgba(245,124,0,0.34)"/>
<rect x="10" y="1039" width="2939" height="4.0" fill="rgba(0,188,212,0.35)"/>
<rect x="10" y="1098" width="2939" height="12.8" fill="rgba(245,124,0,0.34)"/>
<rect x="10" y="1165" width="2939" height="4.9" fill="rgba(245,124,0,0.34)"/>
<rect x="10" y="1171.9" width="2939" height="2.1" fill="rgba(0,188,212,0.35)"/>
<rect x="10" y="1186.9" width="2939" height="10.9" fill="rgba(0,188,212,0.35)"/>

<text x="1331.6" y="838.9" font-size="13" fill="#f23645" textLength="76" lengthAdjust="spacingAndGlyphs">50% wick fill</text>
</g>
<g font-size="12" fill="#adb0ba">
<text x="3010.5" y="53.0" text-anchor="end">77,500.00</text>
<text x="3010.5" y="110.2" text-anchor="end">77,000.00</text>
<text x="3010.5" y="167.7" text-anchor="end">76,500.00</text>
<text x="3010.5" y="225.7" text-anchor="end">76,000.00</text>
<text x="3010.5" y="284.0" text-anchor="end">75,500.00</text>
<text x="3010.5" y="330.9" text-anchor="end">75,100.00</text>
<text x="3010.5" y="378.1" text-anchor="end">74,700.00</text>
<text x="3010.5" y="425.6" text-anchor="end">74,300.00</text>
<text x="3010.5" y="473.3" text-anchor="end">73,900.00</text>
<text x="3010.5" y="521.2" text-anchor="end">73,500.00</text>
<text x="3010.5" y="569.4" text-anchor="end">73,100.00</text>
<text x="3010.5" y="617.9" text-anchor="end">72,700.00</text>
<text x="3010.5" y="666.7" text-anchor="end">72,300.00</text>
<text x="3010.5" y="715.7" text-anchor="end">71,900.00</text>
<text x="3010.5" y="765.0" text-anchor="end">71,500.00</text>
<text x="3010.5" y="802.1" text-anchor="end">71,200.00</text>
<text x="3010.5" y="839.4" text-anchor="end">70,900.00</text>
<text x="3010.5" y="876.9" text-anchor="end">70,600.00</text>
<text x="3010.5" y="914.5" text-anchor="end">70,300.00</text>
<text x="3010.5" y="952.3" text-anchor="end">70,000.00</text>
<text x="3010.5" y="990.3" text-anchor="end">69,700.00</text>
<text x="3010.5" y="1022.0" text-anchor="end">69,450.00</text>
<text x="3010.5" y="1053.9" text-anchor="end">69,200.00</text>
<text x="3010.5" y="1084.6" text-anchor="end">68,960.00</text>
<text x="3010.5" y="1115.4" text-anchor="end">68,720.00</text>
<text x="3010.5" y="1147.6" text-anchor="end">68,470.00</text>
<text x="3010.5" y="1178.6" text-anchor="end">68,230.00</text>
<text x="3010.5" y="1209.7" text-anchor="end">67,990.00</text>
<text x="129.3" y="1254" text-anchor="middle">18:00</text>
<text x="253.5" y="1254" text-anchor="middle">5</text>
<text x="377.7" y="1254" text-anchor="middle">06:00</text>
<text x="502.0" y="1254" text-anchor="middle">12:00</text>
<text x="626.2" y="1254" text-anchor="middle">18:00</text>
<text x="750.4" y="1254" text-anchor="middle">6</text>
<text x="874.6" y="1254" text-anchor="middle">06:00</text>
<text x="998.8" y="1254" text-anchor="middle">12:00</text>
<text x="1123.1" y="1254" text-anchor="middle">18:00</text>
<text x="1247.3" y="1254" text-anchor="middle">7</text>
<text x="1371.5" y="1254" text-anchor="middle">06:00</text>
<text x="1495.7" y="1254" text-anchor="middle">12:00</text>
<text x="1619.9" y="1254" text-anchor="middle">18:00</text>
<text x="1744.2" y="1254" text-anchor="middle">8</text>
<text x="1868.4" y="1254" text-anchor="middle">06:00</text>
<text x="1992.6" y="1254" text-anchor="middle">12:00</text>
<text x="2116.8" y="1254" text-anchor="middle">18:00</text>
<text x="2241.0" y="1254" text-anchor="middle">9</text>
<text x="2365.3" y="1254" text-anchor="middle">06:00</text>
<text x="2489.5" y="1254" text-anchor="middle">12:00</text>
<text x="2613.7" y="1254" text-anchor="middle">18:00</text>
<text x="2737.9" y="1254" text-anchor="middle">10</text>
<text x="2862.1" y="1254" text-anchor="middle">06:00</text>
</g>
<!-- legend -->
<g font-size="12" fill="#b2b5be" lengthAdjust="spacingAndGlyphs">
<text x="17.8" y="46" textLength="173.5" lengthAdjust="spacingAndGlyphs">Bitcoin / TetherUS, 15, BINANCE</text>
<text x="198.9" y="46" textLength="7.6" lengthAdjust="spacingAndGlyphs">O</text>
<text x="267" y="46" textLength="7.6" lengthAdjust="spacingAndGlyphs">H</text>
<text x="334.8" y="46" textLength="6.2" lengthAdjust="spacingAndGlyphs">L</text>
<text x="401.1" y="46" textLength="7" lengthAdjust="spacingAndGlyphs">C</text>
<text x="17.8" y="62.8" textLength="22.4" lengthAdjust="spacingAndGlyphs">EMA</text>
<text x="17.8" y="79.8" textLength="15.9" lengthAdjust="spacingAndGlyphs">MA</text>
</g>
<g font-size="12" fill="#131722">
<text x="207" y="46" textLength="52.3" lengthAdjust="spacingAndGlyphs">75,894.05</text>
<text x="275.2" y="46" textLength="52" lengthAdjust="spacingAndGlyphs">75,920.00</text>
<text x="341.7" y="46" textLength="52.2" lengthAdjust="spacingAndGlyphs">75,850.00</text>
<text x="408.7" y="46" textLength="52.2" lengthAdjust="spacingAndGlyphs">75,890.00</text>
<text x="469.1" y="46" textLength="77.6" lengthAdjust="spacingAndGlyphs">−4.06 (−0.01%)</text>
</g>
<!-- price boxes -->
<path d="M2950 227H3014Q3016 227 3016 229V255.8Q3016 257.8 3014 257.8H2950Z" fill="#000"/>
<text x="3010.6" y="238.8" font-size="12" font-weight="bold" fill="#fff" text-anchor="end" textLength="52.5" lengthAdjust="spacingAndGlyphs">75,890.00</text>
<text x="2958" y="252.8" font-size="12" fill="#d6d6d6" textLength="29.5" lengthAdjust="spacingAndGlyphs">07:10</text>
<path d="M2950 478.3H3014Q3016 478.3 3016 480.3V492.7Q3016 494.7 3014 494.7H2950Z" fill="#ff9800"/>
<path d="M2949 484V496L2955.5 490Z" fill="#131722"/>
<text x="3010.6" y="490.2" font-size="12" fill="#131722" text-anchor="end" textLength="52.5" lengthAdjust="spacingAndGlyphs">73,767.04</text>
<path d="M2950 681.2H3014Q3016 681.2 3016 683.2V695.6Q3016 697.6 3014 697.6H2950Z" fill="#f23645"/>
<text x="3010.6" y="693.1" font-size="12" font-weight="bold" fill="#fff" text-anchor="end" textLength="52.5" lengthAdjust="spacingAndGlyphs">72,091.59</text>
<path d="M2950 828.5H3014Q3016 828.5 3016 830.5V842.9Q3016 844.9 3014 844.9H2950Z" fill="#787b86"/>
<text x="3010.6" y="840.4" font-size="12" font-weight="bold" fill="#fff" text-anchor="end" textLength="52.5" lengthAdjust="spacingAndGlyphs">70,906.57</text>
<path d="M2950 1005.3H3014Q3016 1005.3 3016 1007.3V1019.8Q3016 1021.8 3014 1021.8H2950Z" fill="#089981"/>
<text x="3010.6" y="1017.1" font-size="12" font-weight="bold" fill="#fff" text-anchor="end" textLength="52.5" lengthAdjust="spacingAndGlyphs">69,497.45</text>
<!-- logo -->
<g fill="#d1d4dc">
<path d="M9.8 1275.9H17.9V1286.1H13.4V1280H9.8Z"/>
<circle cx="20.9" cy="1278.3" r="2.3"/>
<path d="M24.3 1275.9H29.8L26.1 1286.1H21.2Z"/>
<text x="32.6" y="1286" font-size="13" stroke="#d1d4dc" stroke-width="0.35" textLength="71" lengthAdjust="spacingAndGlyphs">TradingView</text>
</g>
</svg>
</body></html>
